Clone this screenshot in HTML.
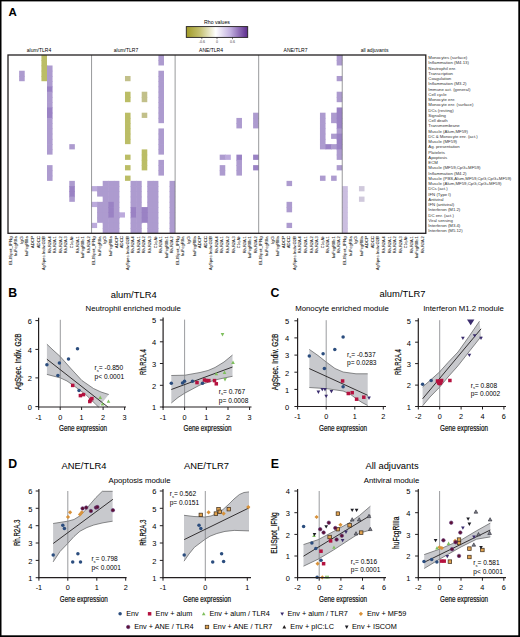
<!DOCTYPE html><html><head><meta charset="utf-8"><style>html,body{margin:0;padding:0;background:#fff;}svg{display:block;}text{font-family:"Liberation Sans",sans-serif;}</style></head><body>
<svg width="520" height="637" viewBox="0 0 520 637">
<defs><linearGradient id="rho" x1="0" x2="1" y1="0" y2="0"><stop offset="0" stop-color="#a09a26"/><stop offset="0.22" stop-color="#c4c070"/><stop offset="0.48" stop-color="#ffffff"/><stop offset="0.72" stop-color="#c2b0e0"/><stop offset="1" stop-color="#5b2a8c"/></linearGradient><clipPath id="cpB1"><rect x="38" y="300" width="95" height="107"/></clipPath></defs>
<rect x="0.00" y="0.00" width="520.00" height="637.00" fill="#ffffff"/>
<text x="8.60" y="15.60" font-size="11.5" font-weight="bold" fill="#000">A</text>
<text x="217.00" y="23.60" font-size="5.2" text-anchor="middle">Rho values</text>
<rect x="186.3" y="26.6" width="61.4" height="10.8" fill="url(#rho)" stroke="#231f20" stroke-width="0.9"/>
<line x1="201.80" y1="37.40" x2="201.80" y2="39.20" stroke="#231f20" stroke-width="0.6"/>
<text x="201.80" y="43.40" font-size="3.6" text-anchor="middle" fill="#444">-0.6</text>
<line x1="217.00" y1="37.40" x2="217.00" y2="39.20" stroke="#231f20" stroke-width="0.6"/>
<text x="217.00" y="43.40" font-size="3.6" text-anchor="middle" fill="#444">0</text>
<line x1="232.50" y1="37.40" x2="232.50" y2="39.20" stroke="#231f20" stroke-width="0.6"/>
<text x="232.50" y="43.40" font-size="3.6" text-anchor="middle" fill="#444">0.6</text>
<rect x="19.14" y="70.73" width="5.57" height="5.94" fill="#ad9bcf"/>
<rect x="19.14" y="75.98" width="5.57" height="5.24" fill="#ad9bcf"/>
<rect x="41.42" y="55.00" width="5.57" height="5.94" fill="#bbbd66"/>
<rect x="41.42" y="60.24" width="5.57" height="5.94" fill="#bbbd66"/>
<rect x="41.42" y="65.49" width="6.17" height="5.94" fill="#bbbd66"/>
<rect x="41.42" y="70.73" width="6.17" height="5.94" fill="#bbbd66"/>
<rect x="41.42" y="75.98" width="6.17" height="5.24" fill="#bbbd66"/>
<rect x="46.99" y="65.49" width="5.57" height="5.94" fill="#ad9bcf"/>
<rect x="46.99" y="70.73" width="5.57" height="5.94" fill="#ad9bcf"/>
<rect x="46.99" y="75.98" width="5.57" height="5.94" fill="#ad9bcf"/>
<rect x="46.99" y="81.22" width="5.57" height="5.94" fill="#ad9bcf"/>
<rect x="46.99" y="86.46" width="5.57" height="5.94" fill="#9a82c4"/>
<rect x="46.99" y="91.71" width="5.57" height="5.94" fill="#ad9bcf"/>
<rect x="46.99" y="96.95" width="5.57" height="5.94" fill="#ad9bcf"/>
<rect x="46.99" y="102.20" width="5.57" height="5.94" fill="#ad9bcf"/>
<rect x="46.99" y="107.44" width="5.57" height="5.94" fill="#9a82c4"/>
<rect x="46.99" y="112.69" width="5.57" height="5.94" fill="#9a82c4"/>
<rect x="46.99" y="117.93" width="5.57" height="5.94" fill="#ad9bcf"/>
<rect x="46.99" y="123.17" width="5.57" height="5.94" fill="#ad9bcf"/>
<rect x="46.99" y="128.42" width="5.57" height="5.94" fill="#ad9bcf"/>
<rect x="46.99" y="133.66" width="5.57" height="5.94" fill="#ad9bcf"/>
<rect x="46.99" y="138.91" width="5.57" height="5.94" fill="#ad9bcf"/>
<rect x="46.99" y="144.15" width="5.57" height="5.94" fill="#ad9bcf"/>
<rect x="46.99" y="149.39" width="5.57" height="5.24" fill="#ad9bcf"/>
<rect x="46.99" y="165.13" width="5.57" height="5.94" fill="#ad9bcf"/>
<rect x="46.99" y="170.37" width="5.57" height="5.94" fill="#ad9bcf"/>
<rect x="46.99" y="175.61" width="5.57" height="5.24" fill="#ad9bcf"/>
<rect x="69.28" y="144.15" width="5.57" height="5.24" fill="#ad9bcf"/>
<rect x="69.28" y="180.86" width="5.57" height="5.94" fill="#ad9bcf"/>
<rect x="69.28" y="186.10" width="5.57" height="5.94" fill="#9a82c4"/>
<rect x="69.28" y="191.35" width="5.57" height="5.94" fill="#9a82c4"/>
<rect x="69.28" y="196.59" width="5.57" height="5.24" fill="#ad9bcf"/>
<rect x="91.56" y="186.10" width="6.17" height="5.24" fill="#bcaadc"/>
<rect x="91.56" y="201.84" width="6.17" height="5.24" fill="#bcaadc"/>
<rect x="91.56" y="222.81" width="5.57" height="5.24" fill="#bcaadc"/>
<rect x="97.13" y="186.10" width="6.17" height="5.94" fill="#ad9bcf"/>
<rect x="97.13" y="191.35" width="6.17" height="5.24" fill="#ad9bcf"/>
<rect x="97.13" y="201.84" width="6.17" height="5.94" fill="#ad9bcf"/>
<rect x="97.13" y="207.08" width="6.17" height="5.94" fill="#ad9bcf"/>
<rect x="97.13" y="212.32" width="6.17" height="5.94" fill="#ad9bcf"/>
<rect x="97.13" y="217.57" width="6.17" height="5.24" fill="#ad9bcf"/>
<rect x="102.70" y="180.86" width="6.17" height="5.94" fill="#ad9bcf"/>
<rect x="102.70" y="186.10" width="6.17" height="5.94" fill="#ad9bcf"/>
<rect x="102.70" y="191.35" width="6.17" height="5.94" fill="#ad9bcf"/>
<rect x="102.70" y="196.59" width="6.17" height="5.94" fill="#ad9bcf"/>
<rect x="102.70" y="201.84" width="6.17" height="5.94" fill="#ad9bcf"/>
<rect x="102.70" y="207.08" width="6.17" height="5.94" fill="#ad9bcf"/>
<rect x="102.70" y="212.32" width="6.17" height="5.94" fill="#ad9bcf"/>
<rect x="102.70" y="217.57" width="6.17" height="5.94" fill="#ad9bcf"/>
<rect x="102.70" y="222.81" width="6.17" height="5.94" fill="#ad9bcf"/>
<rect x="102.70" y="228.06" width="6.17" height="5.24" fill="#ad9bcf"/>
<rect x="108.27" y="180.86" width="6.17" height="5.94" fill="#ad9bcf"/>
<rect x="108.27" y="186.10" width="6.17" height="5.94" fill="#ad9bcf"/>
<rect x="108.27" y="191.35" width="6.17" height="5.94" fill="#ad9bcf"/>
<rect x="108.27" y="196.59" width="6.17" height="5.94" fill="#ad9bcf"/>
<rect x="108.27" y="201.84" width="6.17" height="5.94" fill="#9a82c4"/>
<rect x="108.27" y="207.08" width="6.17" height="5.94" fill="#9a82c4"/>
<rect x="108.27" y="212.32" width="6.17" height="5.94" fill="#9a82c4"/>
<rect x="108.27" y="217.57" width="6.17" height="5.94" fill="#ad9bcf"/>
<rect x="108.27" y="222.81" width="6.17" height="5.94" fill="#ad9bcf"/>
<rect x="108.27" y="228.06" width="6.17" height="5.24" fill="#ad9bcf"/>
<rect x="113.84" y="180.86" width="5.57" height="5.94" fill="#ad9bcf"/>
<rect x="113.84" y="186.10" width="5.57" height="5.94" fill="#ad9bcf"/>
<rect x="113.84" y="191.35" width="5.57" height="5.94" fill="#ad9bcf"/>
<rect x="113.84" y="196.59" width="5.57" height="5.94" fill="#ad9bcf"/>
<rect x="113.84" y="201.84" width="5.57" height="5.94" fill="#ad9bcf"/>
<rect x="113.84" y="207.08" width="5.57" height="5.94" fill="#ad9bcf"/>
<rect x="113.84" y="212.32" width="6.17" height="5.94" fill="#ad9bcf"/>
<rect x="113.84" y="217.57" width="5.57" height="5.94" fill="#ad9bcf"/>
<rect x="113.84" y="222.81" width="5.57" height="5.94" fill="#ad9bcf"/>
<rect x="113.84" y="228.06" width="5.57" height="5.24" fill="#ad9bcf"/>
<rect x="119.41" y="212.32" width="5.57" height="5.24" fill="#bcaadc"/>
<rect x="124.98" y="75.98" width="5.57" height="5.24" fill="#c2c08a"/>
<rect x="124.98" y="91.71" width="5.57" height="5.94" fill="#bbbd66"/>
<rect x="124.98" y="96.95" width="5.57" height="5.24" fill="#bbbd66"/>
<rect x="124.98" y="112.69" width="5.57" height="5.94" fill="#bbbd66"/>
<rect x="124.98" y="117.93" width="5.57" height="5.94" fill="#bbbd66"/>
<rect x="124.98" y="123.17" width="5.57" height="5.94" fill="#bbbd66"/>
<rect x="124.98" y="128.42" width="5.57" height="5.94" fill="#bbbd66"/>
<rect x="124.98" y="133.66" width="5.57" height="5.94" fill="#bbbd66"/>
<rect x="124.98" y="138.91" width="5.57" height="5.24" fill="#bbbd66"/>
<rect x="124.98" y="154.64" width="5.57" height="5.24" fill="#bbbd66"/>
<rect x="124.98" y="165.13" width="5.57" height="5.24" fill="#bbbd66"/>
<rect x="124.98" y="175.61" width="5.57" height="5.24" fill="#bbbd66"/>
<rect x="141.70" y="91.71" width="5.57" height="5.94" fill="#c2c08a"/>
<rect x="141.70" y="96.95" width="5.57" height="5.24" fill="#c2c08a"/>
<rect x="141.70" y="112.69" width="5.57" height="5.24" fill="#c2c08a"/>
<rect x="141.70" y="149.39" width="5.57" height="5.94" fill="#bbbd66"/>
<rect x="141.70" y="154.64" width="5.57" height="5.94" fill="#bbbd66"/>
<rect x="141.70" y="159.88" width="5.57" height="5.94" fill="#bbbd66"/>
<rect x="141.70" y="165.13" width="5.57" height="5.24" fill="#bbbd66"/>
<rect x="158.41" y="55.00" width="5.57" height="5.94" fill="#ad9bcf"/>
<rect x="158.41" y="60.24" width="5.57" height="5.24" fill="#ad9bcf"/>
<rect x="158.41" y="70.73" width="5.57" height="5.94" fill="#ad9bcf"/>
<rect x="158.41" y="75.98" width="5.57" height="5.94" fill="#ad9bcf"/>
<rect x="158.41" y="81.22" width="5.57" height="5.94" fill="#ad9bcf"/>
<rect x="158.41" y="86.46" width="5.57" height="5.94" fill="#ad9bcf"/>
<rect x="158.41" y="91.71" width="5.57" height="5.94" fill="#ad9bcf"/>
<rect x="158.41" y="96.95" width="5.57" height="5.94" fill="#ad9bcf"/>
<rect x="158.41" y="102.20" width="5.57" height="5.94" fill="#ad9bcf"/>
<rect x="158.41" y="107.44" width="5.57" height="5.94" fill="#ad9bcf"/>
<rect x="158.41" y="112.69" width="5.57" height="5.94" fill="#ad9bcf"/>
<rect x="158.41" y="117.93" width="5.57" height="5.24" fill="#ad9bcf"/>
<rect x="158.41" y="128.42" width="5.57" height="5.94" fill="#ad9bcf"/>
<rect x="158.41" y="133.66" width="5.57" height="5.94" fill="#ad9bcf"/>
<rect x="158.41" y="138.91" width="5.57" height="5.94" fill="#ad9bcf"/>
<rect x="158.41" y="144.15" width="5.57" height="5.94" fill="#ad9bcf"/>
<rect x="158.41" y="149.39" width="5.57" height="5.24" fill="#ad9bcf"/>
<rect x="158.41" y="159.88" width="5.57" height="5.94" fill="#ad9bcf"/>
<rect x="158.41" y="165.13" width="5.57" height="5.94" fill="#ad9bcf"/>
<rect x="158.41" y="170.37" width="5.57" height="5.24" fill="#ad9bcf"/>
<rect x="130.55" y="180.86" width="6.17" height="5.94" fill="#ad9bcf"/>
<rect x="130.55" y="186.10" width="6.17" height="5.94" fill="#ad9bcf"/>
<rect x="130.55" y="191.35" width="6.17" height="5.94" fill="#ad9bcf"/>
<rect x="130.55" y="196.59" width="6.17" height="5.94" fill="#ad9bcf"/>
<rect x="130.55" y="201.84" width="6.17" height="5.94" fill="#ad9bcf"/>
<rect x="130.55" y="207.08" width="6.17" height="5.94" fill="#9a82c4"/>
<rect x="130.55" y="212.32" width="6.17" height="5.94" fill="#9a82c4"/>
<rect x="130.55" y="217.57" width="6.17" height="5.94" fill="#ad9bcf"/>
<rect x="130.55" y="222.81" width="6.17" height="5.94" fill="#ad9bcf"/>
<rect x="130.55" y="228.06" width="6.17" height="5.24" fill="#ad9bcf"/>
<rect x="136.13" y="180.86" width="5.57" height="5.94" fill="#ad9bcf"/>
<rect x="136.13" y="186.10" width="5.57" height="5.94" fill="#ad9bcf"/>
<rect x="136.13" y="191.35" width="5.57" height="5.94" fill="#ad9bcf"/>
<rect x="136.13" y="196.59" width="5.57" height="5.94" fill="#ad9bcf"/>
<rect x="136.13" y="201.84" width="5.57" height="5.94" fill="#ad9bcf"/>
<rect x="136.13" y="207.08" width="6.17" height="5.94" fill="#ad9bcf"/>
<rect x="136.13" y="212.32" width="6.17" height="5.94" fill="#ad9bcf"/>
<rect x="136.13" y="217.57" width="6.17" height="5.94" fill="#ad9bcf"/>
<rect x="136.13" y="222.81" width="5.57" height="5.94" fill="#ad9bcf"/>
<rect x="136.13" y="228.06" width="5.57" height="5.24" fill="#ad9bcf"/>
<rect x="147.27" y="180.86" width="6.17" height="5.94" fill="#ad9bcf"/>
<rect x="147.27" y="186.10" width="6.17" height="5.94" fill="#ad9bcf"/>
<rect x="147.27" y="191.35" width="6.17" height="5.94" fill="#ad9bcf"/>
<rect x="147.27" y="196.59" width="6.17" height="5.94" fill="#ad9bcf"/>
<rect x="147.27" y="201.84" width="6.17" height="5.94" fill="#ad9bcf"/>
<rect x="147.27" y="207.08" width="6.17" height="5.94" fill="#ad9bcf"/>
<rect x="147.27" y="212.32" width="6.17" height="5.94" fill="#ad9bcf"/>
<rect x="147.27" y="217.57" width="6.17" height="5.94" fill="#ad9bcf"/>
<rect x="147.27" y="222.81" width="6.17" height="5.94" fill="#ad9bcf"/>
<rect x="147.27" y="228.06" width="6.17" height="5.24" fill="#ad9bcf"/>
<rect x="152.84" y="180.86" width="5.57" height="5.94" fill="#ad9bcf"/>
<rect x="152.84" y="186.10" width="5.57" height="5.94" fill="#ad9bcf"/>
<rect x="152.84" y="191.35" width="5.57" height="5.94" fill="#ad9bcf"/>
<rect x="152.84" y="196.59" width="5.57" height="5.94" fill="#ad9bcf"/>
<rect x="152.84" y="201.84" width="5.57" height="5.94" fill="#ad9bcf"/>
<rect x="152.84" y="207.08" width="5.57" height="5.94" fill="#ad9bcf"/>
<rect x="152.84" y="212.32" width="5.57" height="5.94" fill="#ad9bcf"/>
<rect x="152.84" y="217.57" width="5.57" height="5.94" fill="#ad9bcf"/>
<rect x="152.84" y="222.81" width="5.57" height="5.94" fill="#ad9bcf"/>
<rect x="152.84" y="228.06" width="5.57" height="5.24" fill="#ad9bcf"/>
<rect x="169.55" y="180.86" width="5.57" height="5.94" fill="#ad9bcf"/>
<rect x="169.55" y="186.10" width="5.57" height="5.94" fill="#ad9bcf"/>
<rect x="169.55" y="191.35" width="5.57" height="5.94" fill="#ad9bcf"/>
<rect x="169.55" y="196.59" width="5.57" height="5.94" fill="#ad9bcf"/>
<rect x="169.55" y="201.84" width="5.57" height="5.94" fill="#ad9bcf"/>
<rect x="169.55" y="207.08" width="5.57" height="5.94" fill="#ad9bcf"/>
<rect x="169.55" y="212.32" width="5.57" height="5.94" fill="#ad9bcf"/>
<rect x="169.55" y="217.57" width="5.57" height="5.94" fill="#ad9bcf"/>
<rect x="169.55" y="222.81" width="5.57" height="5.94" fill="#ad9bcf"/>
<rect x="169.55" y="228.06" width="5.57" height="5.24" fill="#ad9bcf"/>
<rect x="141.70" y="207.08" width="6.17" height="5.94" fill="#9a82c4"/>
<rect x="141.70" y="212.32" width="6.17" height="5.94" fill="#9a82c4"/>
<rect x="141.70" y="217.57" width="6.17" height="5.24" fill="#9a82c4"/>
<rect x="219.69" y="154.64" width="6.17" height="5.24" fill="#ad9bcf"/>
<rect x="225.26" y="154.64" width="5.57" height="5.24" fill="#bcaadc"/>
<rect x="219.69" y="165.13" width="5.57" height="5.94" fill="#ad9bcf"/>
<rect x="219.69" y="170.37" width="5.57" height="5.24" fill="#ad9bcf"/>
<rect x="236.40" y="117.93" width="5.57" height="5.94" fill="#ad9bcf"/>
<rect x="236.40" y="123.17" width="5.57" height="5.24" fill="#ad9bcf"/>
<rect x="236.40" y="154.64" width="5.57" height="5.94" fill="#9a82c4"/>
<rect x="236.40" y="159.88" width="5.57" height="5.94" fill="#ad9bcf"/>
<rect x="236.40" y="165.13" width="5.57" height="5.94" fill="#ad9bcf"/>
<rect x="236.40" y="170.37" width="5.57" height="5.24" fill="#ad9bcf"/>
<rect x="253.11" y="112.69" width="5.57" height="5.94" fill="#ad9bcf"/>
<rect x="253.11" y="117.93" width="5.57" height="5.94" fill="#ad9bcf"/>
<rect x="253.11" y="123.17" width="5.57" height="5.24" fill="#ad9bcf"/>
<rect x="253.11" y="154.64" width="5.57" height="5.24" fill="#9a82c4"/>
<rect x="253.11" y="165.13" width="5.57" height="5.24" fill="#9a82c4"/>
<rect x="286.53" y="180.86" width="5.57" height="5.24" fill="#ad9bcf"/>
<rect x="286.53" y="201.84" width="5.57" height="5.94" fill="#ad9bcf"/>
<rect x="286.53" y="207.08" width="5.57" height="5.24" fill="#ad9bcf"/>
<rect x="286.53" y="222.81" width="5.57" height="5.24" fill="#ad9bcf"/>
<rect x="319.96" y="112.69" width="5.57" height="5.94" fill="#ad9bcf"/>
<rect x="319.96" y="117.93" width="5.57" height="5.94" fill="#ad9bcf"/>
<rect x="319.96" y="123.17" width="5.57" height="5.94" fill="#ad9bcf"/>
<rect x="319.96" y="128.42" width="5.57" height="5.94" fill="#ad9bcf"/>
<rect x="319.96" y="133.66" width="5.57" height="5.94" fill="#ad9bcf"/>
<rect x="319.96" y="138.91" width="5.57" height="5.94" fill="#ad9bcf"/>
<rect x="319.96" y="144.15" width="6.17" height="5.24" fill="#ad9bcf"/>
<rect x="319.96" y="175.61" width="5.57" height="5.24" fill="#ad9bcf"/>
<rect x="325.53" y="144.15" width="6.17" height="5.24" fill="#9a82c4"/>
<rect x="331.10" y="112.69" width="6.17" height="5.94" fill="#ad9bcf"/>
<rect x="331.10" y="117.93" width="6.17" height="5.24" fill="#ad9bcf"/>
<rect x="331.10" y="133.66" width="6.17" height="5.24" fill="#ad9bcf"/>
<rect x="331.10" y="144.15" width="6.17" height="5.24" fill="#ad9bcf"/>
<rect x="331.10" y="175.61" width="5.57" height="5.24" fill="#ad9bcf"/>
<rect x="336.67" y="55.00" width="5.57" height="5.94" fill="#ad9bcf"/>
<rect x="336.67" y="60.24" width="5.57" height="5.24" fill="#ad9bcf"/>
<rect x="336.67" y="75.98" width="5.57" height="5.24" fill="#ad9bcf"/>
<rect x="336.67" y="91.71" width="5.57" height="5.94" fill="#ad9bcf"/>
<rect x="336.67" y="96.95" width="5.57" height="5.24" fill="#ad9bcf"/>
<rect x="336.67" y="107.44" width="5.57" height="5.94" fill="#9a82c4"/>
<rect x="336.67" y="112.69" width="5.57" height="5.94" fill="#9a82c4"/>
<rect x="336.67" y="117.93" width="5.57" height="5.94" fill="#9a82c4"/>
<rect x="336.67" y="123.17" width="5.57" height="5.94" fill="#9a82c4"/>
<rect x="336.67" y="128.42" width="5.57" height="5.94" fill="#ad9bcf"/>
<rect x="336.67" y="133.66" width="5.57" height="5.94" fill="#9a82c4"/>
<rect x="336.67" y="138.91" width="5.57" height="5.94" fill="#9a82c4"/>
<rect x="336.67" y="144.15" width="5.57" height="5.94" fill="#9a82c4"/>
<rect x="336.67" y="149.39" width="5.57" height="5.94" fill="#ad9bcf"/>
<rect x="336.67" y="154.64" width="5.57" height="5.24" fill="#ad9bcf"/>
<rect x="336.67" y="165.13" width="5.57" height="5.24" fill="#ad9bcf"/>
<rect x="342.24" y="186.10" width="5.57" height="5.94" fill="#cbbee0"/>
<rect x="342.24" y="191.35" width="5.57" height="5.94" fill="#cbbee0"/>
<rect x="342.24" y="196.59" width="5.57" height="5.94" fill="#cbbee0"/>
<rect x="342.24" y="201.84" width="5.57" height="5.94" fill="#cbbee0"/>
<rect x="342.24" y="207.08" width="5.57" height="5.94" fill="#cbbee0"/>
<rect x="342.24" y="212.32" width="5.57" height="5.94" fill="#cbbee0"/>
<rect x="342.24" y="217.57" width="5.57" height="5.94" fill="#cbbee0"/>
<rect x="342.24" y="222.81" width="5.57" height="5.94" fill="#cbbee0"/>
<rect x="342.24" y="228.06" width="5.57" height="5.24" fill="#cbbee0"/>
<rect x="358.95" y="186.10" width="5.57" height="5.24" fill="#d0c9dc"/>
<rect x="358.95" y="196.59" width="5.57" height="5.24" fill="#d0c9dc"/>
<line x1="91.56" y1="55.00" x2="91.56" y2="233.30" stroke="#6d6e71" stroke-width="0.7"/>
<line x1="175.12" y1="55.00" x2="175.12" y2="233.30" stroke="#6d6e71" stroke-width="0.7"/>
<line x1="258.68" y1="55.00" x2="258.68" y2="233.30" stroke="#6d6e71" stroke-width="0.7"/>
<line x1="342.24" y1="55.00" x2="342.24" y2="233.30" stroke="#6d6e71" stroke-width="0.7"/>
<rect x="8.0" y="55.0" width="417.8" height="178.3" fill="none" stroke="#231f20" stroke-width="1.3"/>
<text x="39.00" y="52.30" font-size="5.0" text-anchor="middle">alum/TLR4</text>
<text x="126.00" y="52.30" font-size="5.0" text-anchor="middle">alum/TLR7</text>
<text x="211.00" y="52.30" font-size="5.0" text-anchor="middle">ANE/TLR4</text>
<text x="295.50" y="52.30" font-size="5.0" text-anchor="middle">ANE/TLR7</text>
<text x="374.60" y="52.30" font-size="5.0" text-anchor="middle">all adjuvants</text>
<text x="428.30" y="59.17" font-size="4.3" fill="#333333">Monocytes (surface)</text>
<text x="428.30" y="64.42" font-size="4.3" fill="#333333">Inflammation (M4.13)</text>
<text x="428.30" y="69.66" font-size="4.3" fill="#333333">Neutrophil enr.</text>
<text x="428.30" y="74.90" font-size="4.3" fill="#333333">Transcription</text>
<text x="428.30" y="80.15" font-size="4.3" fill="#333333">Coagulation</text>
<text x="428.30" y="85.39" font-size="4.3" fill="#333333">Inflammation (M3.2)</text>
<text x="428.30" y="90.64" font-size="4.3" fill="#333333">Immune act. (general)</text>
<text x="428.30" y="95.88" font-size="4.3" fill="#333333">Cell cycle</text>
<text x="428.30" y="101.12" font-size="4.3" fill="#333333">Monocyte enr.</text>
<text x="428.30" y="106.37" font-size="4.3" fill="#333333">Monocyte enr. (surface)</text>
<text x="428.30" y="111.61" font-size="4.3" fill="#333333">DCs (resting)</text>
<text x="428.30" y="116.86" font-size="4.3" fill="#333333">Signaling</text>
<text x="428.30" y="122.10" font-size="4.3" fill="#333333">Cell death</text>
<text x="428.30" y="127.35" font-size="4.3" fill="#333333">Transmembrane</text>
<text x="428.30" y="132.59" font-size="4.3" fill="#333333">Muscle (Alum,MF59)</text>
<text x="428.30" y="137.83" font-size="4.3" fill="#333333">DC &amp; Monocyte enr. (act.)</text>
<text x="428.30" y="143.08" font-size="4.3" fill="#333333">Muscle (MF59)</text>
<text x="428.30" y="148.32" font-size="4.3" fill="#333333">Ag. presentation</text>
<text x="428.30" y="153.57" font-size="4.3" fill="#333333">Platelets</text>
<text x="428.30" y="158.81" font-size="4.3" fill="#333333">Apoptosis</text>
<text x="428.30" y="164.05" font-size="4.3" fill="#333333">ECM</text>
<text x="428.30" y="169.30" font-size="4.3" fill="#333333">Muscle (MF59,CpG+MF59)</text>
<text x="428.30" y="174.54" font-size="4.3" fill="#333333">Inflammation (M4.2)</text>
<text x="428.30" y="179.79" font-size="4.3" fill="#333333">Muscle (PBS,Alum,MF59,CpG,CpG+MF59)</text>
<text x="428.30" y="185.03" font-size="4.3" fill="#333333">Muscle (Alum,MF59,CpG,CpG+MF59)</text>
<text x="428.30" y="190.28" font-size="4.3" fill="#333333">DCs (act.)</text>
<text x="428.30" y="195.52" font-size="4.3" fill="#333333">IFN (Type I)</text>
<text x="428.30" y="200.76" font-size="4.3" fill="#333333">Antiviral</text>
<text x="428.30" y="206.01" font-size="4.3" fill="#333333">IFN (antiviral)</text>
<text x="428.30" y="211.25" font-size="4.3" fill="#333333">Interferon (M1.2)</text>
<text x="428.30" y="216.50" font-size="4.3" fill="#333333">DC enr. (act.)</text>
<text x="428.30" y="221.74" font-size="4.3" fill="#333333">Viral sensing</text>
<text x="428.30" y="226.98" font-size="4.3" fill="#333333">Interferon (M3.4)</text>
<text x="428.30" y="232.23" font-size="4.3" fill="#333333">Interferon (M5.12)</text>
<text x="11.74" y="236.20" font-size="4.4" text-anchor="end" fill="#1e1e1e" textLength="28.50" lengthAdjust="spacingAndGlyphs" transform="rotate(-90 11.74 236.20)" stroke="#1e1e1e" stroke-width="0.07">ELISpot_IFNg</text>
<text x="17.31" y="236.20" font-size="4.4" text-anchor="end" fill="#1e1e1e" textLength="20.00" lengthAdjust="spacingAndGlyphs" transform="rotate(-90 17.31 236.20)" stroke="#1e1e1e" stroke-width="0.07">huFcgRIIa</text>
<text x="22.88" y="236.20" font-size="4.4" text-anchor="end" fill="#1e1e1e" textLength="8.00" lengthAdjust="spacingAndGlyphs" transform="rotate(-90 22.88 236.20)" stroke="#1e1e1e" stroke-width="0.07">IgG</text>
<text x="28.45" y="236.20" font-size="4.4" text-anchor="end" fill="#1e1e1e" textLength="20.00" lengthAdjust="spacingAndGlyphs" transform="rotate(-90 28.45 236.20)" stroke="#1e1e1e" stroke-width="0.07">huFcgRIIIa</text>
<text x="34.02" y="236.20" font-size="4.4" text-anchor="end" fill="#1e1e1e" textLength="12.00" lengthAdjust="spacingAndGlyphs" transform="rotate(-90 34.02 236.20)" stroke="#1e1e1e" stroke-width="0.07">ADCP</text>
<text x="39.59" y="236.20" font-size="4.4" text-anchor="end" fill="#1e1e1e" textLength="12.00" lengthAdjust="spacingAndGlyphs" transform="rotate(-90 39.59 236.20)" stroke="#1e1e1e" stroke-width="0.07">ADCC</text>
<text x="45.16" y="236.20" font-size="4.4" text-anchor="end" fill="#1e1e1e" textLength="34.00" lengthAdjust="spacingAndGlyphs" transform="rotate(-90 45.16 236.20)" stroke="#1e1e1e" stroke-width="0.07">AgSpec.Indiv.G2B</text>
<text x="50.73" y="236.20" font-size="4.4" text-anchor="end" fill="#1e1e1e" textLength="17.00" lengthAdjust="spacingAndGlyphs" transform="rotate(-90 50.73 236.20)" stroke="#1e1e1e" stroke-width="0.07">Rh.R2A.4</text>
<text x="56.30" y="236.20" font-size="4.4" text-anchor="end" fill="#1e1e1e" textLength="17.00" lengthAdjust="spacingAndGlyphs" transform="rotate(-90 56.30 236.20)" stroke="#1e1e1e" stroke-width="0.07">Rh.R2A.1</text>
<text x="61.87" y="236.20" font-size="4.4" text-anchor="end" fill="#1e1e1e" textLength="17.00" lengthAdjust="spacingAndGlyphs" transform="rotate(-90 61.87 236.20)" stroke="#1e1e1e" stroke-width="0.07">Rh.R2A.2</text>
<text x="67.44" y="236.20" font-size="4.4" text-anchor="end" fill="#1e1e1e" textLength="17.00" lengthAdjust="spacingAndGlyphs" transform="rotate(-90 67.44 236.20)" stroke="#1e1e1e" stroke-width="0.07">Rh.R2A.3</text>
<text x="73.01" y="236.20" font-size="4.4" text-anchor="end" fill="#1e1e1e" textLength="12.00" lengthAdjust="spacingAndGlyphs" transform="rotate(-90 73.01 236.20)" stroke="#1e1e1e" stroke-width="0.07">C1q.Ab</text>
<text x="78.58" y="236.20" font-size="4.4" text-anchor="end" fill="#1e1e1e" textLength="17.00" lengthAdjust="spacingAndGlyphs" transform="rotate(-90 78.58 236.20)" stroke="#1e1e1e" stroke-width="0.07">Rh.R3A.1</text>
<text x="84.15" y="236.20" font-size="4.4" text-anchor="end" fill="#1e1e1e" textLength="22.00" lengthAdjust="spacingAndGlyphs" transform="rotate(-90 84.15 236.20)" stroke="#1e1e1e" stroke-width="0.07">huFcgRIIb.1</text>
<text x="89.72" y="236.20" font-size="4.4" text-anchor="end" fill="#1e1e1e" textLength="17.00" lengthAdjust="spacingAndGlyphs" transform="rotate(-90 89.72 236.20)" stroke="#1e1e1e" stroke-width="0.07">Rh.R3A.2</text>
<text x="95.30" y="236.20" font-size="4.4" text-anchor="end" fill="#1e1e1e" textLength="28.50" lengthAdjust="spacingAndGlyphs" transform="rotate(-90 95.30 236.20)" stroke="#1e1e1e" stroke-width="0.07">ELISpot_IFNg</text>
<text x="100.87" y="236.20" font-size="4.4" text-anchor="end" fill="#1e1e1e" textLength="20.00" lengthAdjust="spacingAndGlyphs" transform="rotate(-90 100.87 236.20)" stroke="#1e1e1e" stroke-width="0.07">huFcgRIIa</text>
<text x="106.44" y="236.20" font-size="4.4" text-anchor="end" fill="#1e1e1e" textLength="8.00" lengthAdjust="spacingAndGlyphs" transform="rotate(-90 106.44 236.20)" stroke="#1e1e1e" stroke-width="0.07">IgG</text>
<text x="112.01" y="236.20" font-size="4.4" text-anchor="end" fill="#1e1e1e" textLength="20.00" lengthAdjust="spacingAndGlyphs" transform="rotate(-90 112.01 236.20)" stroke="#1e1e1e" stroke-width="0.07">huFcgRIIIa</text>
<text x="117.58" y="236.20" font-size="4.4" text-anchor="end" fill="#1e1e1e" textLength="12.00" lengthAdjust="spacingAndGlyphs" transform="rotate(-90 117.58 236.20)" stroke="#1e1e1e" stroke-width="0.07">ADCP</text>
<text x="123.15" y="236.20" font-size="4.4" text-anchor="end" fill="#1e1e1e" textLength="12.00" lengthAdjust="spacingAndGlyphs" transform="rotate(-90 123.15 236.20)" stroke="#1e1e1e" stroke-width="0.07">ADCC</text>
<text x="128.72" y="236.20" font-size="4.4" text-anchor="end" fill="#1e1e1e" textLength="34.00" lengthAdjust="spacingAndGlyphs" transform="rotate(-90 128.72 236.20)" stroke="#1e1e1e" stroke-width="0.07">AgSpec.Indiv.G2B</text>
<text x="134.29" y="236.20" font-size="4.4" text-anchor="end" fill="#1e1e1e" textLength="17.00" lengthAdjust="spacingAndGlyphs" transform="rotate(-90 134.29 236.20)" stroke="#1e1e1e" stroke-width="0.07">Rh.R2A.4</text>
<text x="139.86" y="236.20" font-size="4.4" text-anchor="end" fill="#1e1e1e" textLength="17.00" lengthAdjust="spacingAndGlyphs" transform="rotate(-90 139.86 236.20)" stroke="#1e1e1e" stroke-width="0.07">Rh.R2A.1</text>
<text x="145.43" y="236.20" font-size="4.4" text-anchor="end" fill="#1e1e1e" textLength="17.00" lengthAdjust="spacingAndGlyphs" transform="rotate(-90 145.43 236.20)" stroke="#1e1e1e" stroke-width="0.07">Rh.R2A.2</text>
<text x="151.00" y="236.20" font-size="4.4" text-anchor="end" fill="#1e1e1e" textLength="17.00" lengthAdjust="spacingAndGlyphs" transform="rotate(-90 151.00 236.20)" stroke="#1e1e1e" stroke-width="0.07">Rh.R2A.3</text>
<text x="156.57" y="236.20" font-size="4.4" text-anchor="end" fill="#1e1e1e" textLength="12.00" lengthAdjust="spacingAndGlyphs" transform="rotate(-90 156.57 236.20)" stroke="#1e1e1e" stroke-width="0.07">C1q.Ab</text>
<text x="162.14" y="236.20" font-size="4.4" text-anchor="end" fill="#1e1e1e" textLength="17.00" lengthAdjust="spacingAndGlyphs" transform="rotate(-90 162.14 236.20)" stroke="#1e1e1e" stroke-width="0.07">Rh.R3A.1</text>
<text x="167.71" y="236.20" font-size="4.4" text-anchor="end" fill="#1e1e1e" textLength="22.00" lengthAdjust="spacingAndGlyphs" transform="rotate(-90 167.71 236.20)" stroke="#1e1e1e" stroke-width="0.07">huFcgRIIb.1</text>
<text x="173.28" y="236.20" font-size="4.4" text-anchor="end" fill="#1e1e1e" textLength="17.00" lengthAdjust="spacingAndGlyphs" transform="rotate(-90 173.28 236.20)" stroke="#1e1e1e" stroke-width="0.07">Rh.R3A.2</text>
<text x="178.86" y="236.20" font-size="4.4" text-anchor="end" fill="#1e1e1e" textLength="28.50" lengthAdjust="spacingAndGlyphs" transform="rotate(-90 178.86 236.20)" stroke="#1e1e1e" stroke-width="0.07">ELISpot_IFNg</text>
<text x="184.43" y="236.20" font-size="4.4" text-anchor="end" fill="#1e1e1e" textLength="20.00" lengthAdjust="spacingAndGlyphs" transform="rotate(-90 184.43 236.20)" stroke="#1e1e1e" stroke-width="0.07">huFcgRIIa</text>
<text x="190.00" y="236.20" font-size="4.4" text-anchor="end" fill="#1e1e1e" textLength="8.00" lengthAdjust="spacingAndGlyphs" transform="rotate(-90 190.00 236.20)" stroke="#1e1e1e" stroke-width="0.07">IgG</text>
<text x="195.57" y="236.20" font-size="4.4" text-anchor="end" fill="#1e1e1e" textLength="20.00" lengthAdjust="spacingAndGlyphs" transform="rotate(-90 195.57 236.20)" stroke="#1e1e1e" stroke-width="0.07">huFcgRIIIa</text>
<text x="201.14" y="236.20" font-size="4.4" text-anchor="end" fill="#1e1e1e" textLength="12.00" lengthAdjust="spacingAndGlyphs" transform="rotate(-90 201.14 236.20)" stroke="#1e1e1e" stroke-width="0.07">ADCP</text>
<text x="206.71" y="236.20" font-size="4.4" text-anchor="end" fill="#1e1e1e" textLength="12.00" lengthAdjust="spacingAndGlyphs" transform="rotate(-90 206.71 236.20)" stroke="#1e1e1e" stroke-width="0.07">ADCC</text>
<text x="212.28" y="236.20" font-size="4.4" text-anchor="end" fill="#1e1e1e" textLength="34.00" lengthAdjust="spacingAndGlyphs" transform="rotate(-90 212.28 236.20)" stroke="#1e1e1e" stroke-width="0.07">AgSpec.Indiv.G2B</text>
<text x="217.85" y="236.20" font-size="4.4" text-anchor="end" fill="#1e1e1e" textLength="17.00" lengthAdjust="spacingAndGlyphs" transform="rotate(-90 217.85 236.20)" stroke="#1e1e1e" stroke-width="0.07">Rh.R2A.4</text>
<text x="223.42" y="236.20" font-size="4.4" text-anchor="end" fill="#1e1e1e" textLength="17.00" lengthAdjust="spacingAndGlyphs" transform="rotate(-90 223.42 236.20)" stroke="#1e1e1e" stroke-width="0.07">Rh.R2A.1</text>
<text x="228.99" y="236.20" font-size="4.4" text-anchor="end" fill="#1e1e1e" textLength="17.00" lengthAdjust="spacingAndGlyphs" transform="rotate(-90 228.99 236.20)" stroke="#1e1e1e" stroke-width="0.07">Rh.R2A.2</text>
<text x="234.56" y="236.20" font-size="4.4" text-anchor="end" fill="#1e1e1e" textLength="17.00" lengthAdjust="spacingAndGlyphs" transform="rotate(-90 234.56 236.20)" stroke="#1e1e1e" stroke-width="0.07">Rh.R2A.3</text>
<text x="240.13" y="236.20" font-size="4.4" text-anchor="end" fill="#1e1e1e" textLength="12.00" lengthAdjust="spacingAndGlyphs" transform="rotate(-90 240.13 236.20)" stroke="#1e1e1e" stroke-width="0.07">C1q.Ab</text>
<text x="245.70" y="236.20" font-size="4.4" text-anchor="end" fill="#1e1e1e" textLength="17.00" lengthAdjust="spacingAndGlyphs" transform="rotate(-90 245.70 236.20)" stroke="#1e1e1e" stroke-width="0.07">Rh.R3A.1</text>
<text x="251.27" y="236.20" font-size="4.4" text-anchor="end" fill="#1e1e1e" textLength="22.00" lengthAdjust="spacingAndGlyphs" transform="rotate(-90 251.27 236.20)" stroke="#1e1e1e" stroke-width="0.07">huFcgRIIb.1</text>
<text x="256.84" y="236.20" font-size="4.4" text-anchor="end" fill="#1e1e1e" textLength="17.00" lengthAdjust="spacingAndGlyphs" transform="rotate(-90 256.84 236.20)" stroke="#1e1e1e" stroke-width="0.07">Rh.R3A.2</text>
<text x="262.42" y="236.20" font-size="4.4" text-anchor="end" fill="#1e1e1e" textLength="28.50" lengthAdjust="spacingAndGlyphs" transform="rotate(-90 262.42 236.20)" stroke="#1e1e1e" stroke-width="0.07">ELISpot_IFNg</text>
<text x="267.99" y="236.20" font-size="4.4" text-anchor="end" fill="#1e1e1e" textLength="20.00" lengthAdjust="spacingAndGlyphs" transform="rotate(-90 267.99 236.20)" stroke="#1e1e1e" stroke-width="0.07">huFcgRIIa</text>
<text x="273.56" y="236.20" font-size="4.4" text-anchor="end" fill="#1e1e1e" textLength="8.00" lengthAdjust="spacingAndGlyphs" transform="rotate(-90 273.56 236.20)" stroke="#1e1e1e" stroke-width="0.07">IgG</text>
<text x="279.13" y="236.20" font-size="4.4" text-anchor="end" fill="#1e1e1e" textLength="20.00" lengthAdjust="spacingAndGlyphs" transform="rotate(-90 279.13 236.20)" stroke="#1e1e1e" stroke-width="0.07">huFcgRIIIa</text>
<text x="284.70" y="236.20" font-size="4.4" text-anchor="end" fill="#1e1e1e" textLength="12.00" lengthAdjust="spacingAndGlyphs" transform="rotate(-90 284.70 236.20)" stroke="#1e1e1e" stroke-width="0.07">ADCP</text>
<text x="290.27" y="236.20" font-size="4.4" text-anchor="end" fill="#1e1e1e" textLength="12.00" lengthAdjust="spacingAndGlyphs" transform="rotate(-90 290.27 236.20)" stroke="#1e1e1e" stroke-width="0.07">ADCC</text>
<text x="295.84" y="236.20" font-size="4.4" text-anchor="end" fill="#1e1e1e" textLength="34.00" lengthAdjust="spacingAndGlyphs" transform="rotate(-90 295.84 236.20)" stroke="#1e1e1e" stroke-width="0.07">AgSpec.Indiv.G2B</text>
<text x="301.41" y="236.20" font-size="4.4" text-anchor="end" fill="#1e1e1e" textLength="17.00" lengthAdjust="spacingAndGlyphs" transform="rotate(-90 301.41 236.20)" stroke="#1e1e1e" stroke-width="0.07">Rh.R2A.4</text>
<text x="306.98" y="236.20" font-size="4.4" text-anchor="end" fill="#1e1e1e" textLength="17.00" lengthAdjust="spacingAndGlyphs" transform="rotate(-90 306.98 236.20)" stroke="#1e1e1e" stroke-width="0.07">Rh.R2A.1</text>
<text x="312.55" y="236.20" font-size="4.4" text-anchor="end" fill="#1e1e1e" textLength="17.00" lengthAdjust="spacingAndGlyphs" transform="rotate(-90 312.55 236.20)" stroke="#1e1e1e" stroke-width="0.07">Rh.R2A.2</text>
<text x="318.12" y="236.20" font-size="4.4" text-anchor="end" fill="#1e1e1e" textLength="17.00" lengthAdjust="spacingAndGlyphs" transform="rotate(-90 318.12 236.20)" stroke="#1e1e1e" stroke-width="0.07">Rh.R2A.3</text>
<text x="323.69" y="236.20" font-size="4.4" text-anchor="end" fill="#1e1e1e" textLength="12.00" lengthAdjust="spacingAndGlyphs" transform="rotate(-90 323.69 236.20)" stroke="#1e1e1e" stroke-width="0.07">C1q.Ab</text>
<text x="329.26" y="236.20" font-size="4.4" text-anchor="end" fill="#1e1e1e" textLength="17.00" lengthAdjust="spacingAndGlyphs" transform="rotate(-90 329.26 236.20)" stroke="#1e1e1e" stroke-width="0.07">Rh.R3A.1</text>
<text x="334.83" y="236.20" font-size="4.4" text-anchor="end" fill="#1e1e1e" textLength="22.00" lengthAdjust="spacingAndGlyphs" transform="rotate(-90 334.83 236.20)" stroke="#1e1e1e" stroke-width="0.07">huFcgRIIb.1</text>
<text x="340.40" y="236.20" font-size="4.4" text-anchor="end" fill="#1e1e1e" textLength="17.00" lengthAdjust="spacingAndGlyphs" transform="rotate(-90 340.40 236.20)" stroke="#1e1e1e" stroke-width="0.07">Rh.R3A.2</text>
<text x="345.98" y="236.20" font-size="4.4" text-anchor="end" fill="#1e1e1e" textLength="28.50" lengthAdjust="spacingAndGlyphs" transform="rotate(-90 345.98 236.20)" stroke="#1e1e1e" stroke-width="0.07">ELISpot_IFNg</text>
<text x="351.55" y="236.20" font-size="4.4" text-anchor="end" fill="#1e1e1e" textLength="20.00" lengthAdjust="spacingAndGlyphs" transform="rotate(-90 351.55 236.20)" stroke="#1e1e1e" stroke-width="0.07">huFcgRIIa</text>
<text x="357.12" y="236.20" font-size="4.4" text-anchor="end" fill="#1e1e1e" textLength="8.00" lengthAdjust="spacingAndGlyphs" transform="rotate(-90 357.12 236.20)" stroke="#1e1e1e" stroke-width="0.07">IgG</text>
<text x="362.69" y="236.20" font-size="4.4" text-anchor="end" fill="#1e1e1e" textLength="20.00" lengthAdjust="spacingAndGlyphs" transform="rotate(-90 362.69 236.20)" stroke="#1e1e1e" stroke-width="0.07">huFcgRIIIa</text>
<text x="368.26" y="236.20" font-size="4.4" text-anchor="end" fill="#1e1e1e" textLength="12.00" lengthAdjust="spacingAndGlyphs" transform="rotate(-90 368.26 236.20)" stroke="#1e1e1e" stroke-width="0.07">ADCP</text>
<text x="373.83" y="236.20" font-size="4.4" text-anchor="end" fill="#1e1e1e" textLength="12.00" lengthAdjust="spacingAndGlyphs" transform="rotate(-90 373.83 236.20)" stroke="#1e1e1e" stroke-width="0.07">ADCC</text>
<text x="379.40" y="236.20" font-size="4.4" text-anchor="end" fill="#1e1e1e" textLength="34.00" lengthAdjust="spacingAndGlyphs" transform="rotate(-90 379.40 236.20)" stroke="#1e1e1e" stroke-width="0.07">AgSpec.Indiv.G2B</text>
<text x="384.97" y="236.20" font-size="4.4" text-anchor="end" fill="#1e1e1e" textLength="17.00" lengthAdjust="spacingAndGlyphs" transform="rotate(-90 384.97 236.20)" stroke="#1e1e1e" stroke-width="0.07">Rh.R2A.4</text>
<text x="390.54" y="236.20" font-size="4.4" text-anchor="end" fill="#1e1e1e" textLength="17.00" lengthAdjust="spacingAndGlyphs" transform="rotate(-90 390.54 236.20)" stroke="#1e1e1e" stroke-width="0.07">Rh.R2A.1</text>
<text x="396.11" y="236.20" font-size="4.4" text-anchor="end" fill="#1e1e1e" textLength="17.00" lengthAdjust="spacingAndGlyphs" transform="rotate(-90 396.11 236.20)" stroke="#1e1e1e" stroke-width="0.07">Rh.R2A.2</text>
<text x="401.68" y="236.20" font-size="4.4" text-anchor="end" fill="#1e1e1e" textLength="17.00" lengthAdjust="spacingAndGlyphs" transform="rotate(-90 401.68 236.20)" stroke="#1e1e1e" stroke-width="0.07">Rh.R2A.3</text>
<text x="407.25" y="236.20" font-size="4.4" text-anchor="end" fill="#1e1e1e" textLength="12.00" lengthAdjust="spacingAndGlyphs" transform="rotate(-90 407.25 236.20)" stroke="#1e1e1e" stroke-width="0.07">C1q.Ab</text>
<text x="412.82" y="236.20" font-size="4.4" text-anchor="end" fill="#1e1e1e" textLength="17.00" lengthAdjust="spacingAndGlyphs" transform="rotate(-90 412.82 236.20)" stroke="#1e1e1e" stroke-width="0.07">Rh.R3A.1</text>
<text x="418.39" y="236.20" font-size="4.4" text-anchor="end" fill="#1e1e1e" textLength="22.00" lengthAdjust="spacingAndGlyphs" transform="rotate(-90 418.39 236.20)" stroke="#1e1e1e" stroke-width="0.07">huFcgRIIb.1</text>
<text x="423.96" y="236.20" font-size="4.4" text-anchor="end" fill="#1e1e1e" textLength="17.00" lengthAdjust="spacingAndGlyphs" transform="rotate(-90 423.96 236.20)" stroke="#1e1e1e" stroke-width="0.07">Rh.R3A.2</text>
<text x="8.30" y="296.60" font-size="12.3" font-weight="bold" fill="#000">B</text>
<text x="133.70" y="297.70" font-size="9.4" text-anchor="middle">alum/TLR4</text>
<text x="133.20" y="311.30" font-size="7.8" text-anchor="middle">Neutrophil enriched module</text>
<polygon points="46.90,344.20 53.00,350.00 60.20,356.50 70.40,368.00 81.90,380.50 93.50,388.50 101.00,392.00 108.80,394.50 98.50,407.00 95.40,404.00 85.80,394.60 74.20,386.00 67.00,381.00 60.20,377.80 53.00,376.00 46.90,374.40" fill="#c8c9cd" stroke="none"/>
<polyline points="46.90,344.20 53.00,350.00 60.20,356.50 70.40,368.00 81.90,380.50 93.50,388.50 101.00,392.00 108.80,394.50" fill="none" stroke="#636466" stroke-width="0.75"/>
<polyline points="46.90,374.40 53.00,376.00 60.20,377.80 67.00,381.00 74.20,386.00 85.80,394.60 95.40,404.00 98.50,407.00" fill="none" stroke="#636466" stroke-width="0.75"/>
<line x1="60.30" y1="319.80" x2="60.30" y2="407.00" stroke="#808285" stroke-width="0.8"/>
<line x1="46.90" y1="359.20" x2="107.90" y2="407.00" stroke="#231f20" stroke-width="0.9"/>
<circle cx="46.90" cy="364.80" r="1.75" fill="#2b4d7e"/>
<circle cx="57.90" cy="375.40" r="1.75" fill="#2b4d7e"/>
<circle cx="59.40" cy="362.90" r="1.75" fill="#2b4d7e"/>
<circle cx="68.50" cy="359.00" r="1.75" fill="#2b4d7e"/>
<circle cx="77.50" cy="348.80" r="1.75" fill="#2b4d7e"/>
<circle cx="79.00" cy="390.40" r="1.75" fill="#2b4d7e"/>
<rect x="70.95" y="383.65" width="3.50" height="3.50" fill="#b5123f"/>
<rect x="78.65" y="393.85" width="3.50" height="3.50" fill="#b5123f"/>
<rect x="81.75" y="392.85" width="3.50" height="3.50" fill="#b5123f"/>
<rect x="88.85" y="398.25" width="3.50" height="3.50" fill="#b5123f"/>
<rect x="90.15" y="396.85" width="3.50" height="3.50" fill="#b5123f"/>
<rect x="88.05" y="399.75" width="3.50" height="3.50" fill="#b5123f"/>
<path d="M100.20,395.57L102.04,398.90L98.36,398.90Z" fill="#7fbf5e"/>
<path d="M108.50,399.38L110.34,402.70L106.66,402.70Z" fill="#7fbf5e"/>
<path d="M102.50,402.07L104.34,405.40L100.66,405.40Z" fill="#7fbf5e"/>
<line x1="38.60" y1="317.80" x2="38.60" y2="407.60" stroke="#231f20" stroke-width="1.2"/>
<line x1="38.00" y1="407.00" x2="126.00" y2="407.00" stroke="#231f20" stroke-width="1.2"/>
<line x1="35.40" y1="320.60" x2="38.60" y2="320.60" stroke="#231f20" stroke-width="1.0"/>
<text x="32.00" y="323.90" font-size="7.5" text-anchor="end">6</text>
<line x1="35.40" y1="349.40" x2="38.60" y2="349.40" stroke="#231f20" stroke-width="1.0"/>
<text x="32.00" y="352.70" font-size="7.5" text-anchor="end">4</text>
<line x1="35.40" y1="377.90" x2="38.60" y2="377.90" stroke="#231f20" stroke-width="1.0"/>
<text x="32.00" y="381.20" font-size="7.5" text-anchor="end">2</text>
<line x1="35.40" y1="406.60" x2="38.60" y2="406.60" stroke="#231f20" stroke-width="1.0"/>
<text x="32.00" y="409.90" font-size="7.5" text-anchor="end">0</text>
<line x1="38.70" y1="407.00" x2="38.70" y2="410.00" stroke="#231f20" stroke-width="1.0"/>
<text x="38.70" y="419.70" font-size="7.3" text-anchor="middle">-1</text>
<line x1="60.20" y1="407.00" x2="60.20" y2="410.00" stroke="#231f20" stroke-width="1.0"/>
<text x="60.20" y="419.70" font-size="7.3" text-anchor="middle">0</text>
<line x1="81.60" y1="407.00" x2="81.60" y2="410.00" stroke="#231f20" stroke-width="1.0"/>
<text x="81.60" y="419.70" font-size="7.3" text-anchor="middle">1</text>
<line x1="103.10" y1="407.00" x2="103.10" y2="410.00" stroke="#231f20" stroke-width="1.0"/>
<text x="103.10" y="419.70" font-size="7.3" text-anchor="middle">2</text>
<line x1="124.60" y1="407.00" x2="124.60" y2="410.00" stroke="#231f20" stroke-width="1.0"/>
<text x="124.60" y="419.70" font-size="7.3" text-anchor="middle">3</text>
<text x="83.00" y="431.00" font-size="9.5" text-anchor="middle" textLength="48.00" lengthAdjust="spacingAndGlyphs" stroke="#231f20" stroke-width="0.22">Gene expression</text>
<text x="20.80" y="361.70" font-size="9.5" text-anchor="middle" textLength="56.60" lengthAdjust="spacingAndGlyphs" transform="rotate(-90 20.80 361.70)" stroke="#231f20" stroke-width="0.22">AgSpec. Indiv. G2B</text>
<text x="94.60" y="370.20" font-size="6.6">r<tspan font-size="4" dy="1.4">s</tspan><tspan dy="-1.4">= -0.850</tspan></text>
<text x="94.60" y="378.80" font-size="6.6">p&lt; 0.0001</text>
<polygon points="171.30,375.50 185.00,375.20 200.00,372.50 208.00,370.50 215.00,367.50 224.00,362.00 232.50,355.00 232.50,376.30 224.00,378.00 215.00,380.00 200.00,385.00 185.00,393.00 178.00,397.50 171.30,403.00" fill="#c8c9cd" stroke="none"/>
<polyline points="171.30,375.50 185.00,375.20 200.00,372.50 208.00,370.50 215.00,367.50 224.00,362.00 232.50,355.00" fill="none" stroke="#636466" stroke-width="0.75"/>
<polyline points="171.30,403.00 178.00,397.50 185.00,393.00 200.00,385.00 215.00,380.00 224.00,378.00 232.50,376.30" fill="none" stroke="#636466" stroke-width="0.75"/>
<line x1="184.60" y1="319.60" x2="184.60" y2="407.00" stroke="#808285" stroke-width="0.8"/>
<line x1="171.30" y1="389.50" x2="232.50" y2="367.00" stroke="#231f20" stroke-width="0.9"/>
<circle cx="171.30" cy="383.30" r="1.75" fill="#2b4d7e"/>
<circle cx="182.50" cy="383.00" r="1.75" fill="#2b4d7e"/>
<circle cx="184.50" cy="381.30" r="1.75" fill="#2b4d7e"/>
<circle cx="192.50" cy="381.30" r="1.75" fill="#2b4d7e"/>
<circle cx="202.50" cy="383.30" r="1.75" fill="#2b4d7e"/>
<rect x="195.25" y="380.85" width="3.50" height="3.50" fill="#b5123f"/>
<rect x="202.75" y="378.25" width="3.50" height="3.50" fill="#b5123f"/>
<rect x="204.55" y="378.85" width="3.50" height="3.50" fill="#b5123f"/>
<rect x="207.05" y="378.85" width="3.50" height="3.50" fill="#b5123f"/>
<rect x="212.75" y="378.85" width="3.50" height="3.50" fill="#b5123f"/>
<rect x="214.55" y="382.05" width="3.50" height="3.50" fill="#b5123f"/>
<path d="M216.30,371.88L218.14,375.20L214.46,375.20Z" fill="#7fbf5e"/>
<path d="M224.50,370.57L226.34,373.90L222.66,373.90Z" fill="#7fbf5e"/>
<path d="M225.00,381.43L226.84,378.10L223.16,378.10Z" fill="#7fbf5e"/>
<path d="M233.00,360.57L234.84,363.90L231.16,363.90Z" fill="#7fbf5e"/>
<path d="M222.50,336.43L224.34,333.10L220.66,333.10Z" fill="#7fbf5e"/>
<line x1="163.10" y1="317.60" x2="163.10" y2="407.60" stroke="#231f20" stroke-width="1.2"/>
<line x1="162.50" y1="407.00" x2="251.50" y2="407.00" stroke="#231f20" stroke-width="1.2"/>
<line x1="159.90" y1="320.00" x2="163.10" y2="320.00" stroke="#231f20" stroke-width="1.0"/>
<text x="156.10" y="323.30" font-size="7.5" text-anchor="end">5</text>
<line x1="159.90" y1="341.80" x2="163.10" y2="341.80" stroke="#231f20" stroke-width="1.0"/>
<text x="156.10" y="345.10" font-size="7.5" text-anchor="end">4</text>
<line x1="159.90" y1="363.50" x2="163.10" y2="363.50" stroke="#231f20" stroke-width="1.0"/>
<text x="156.10" y="366.80" font-size="7.5" text-anchor="end">3</text>
<line x1="159.90" y1="385.30" x2="163.10" y2="385.30" stroke="#231f20" stroke-width="1.0"/>
<text x="156.10" y="388.60" font-size="7.5" text-anchor="end">2</text>
<line x1="159.90" y1="407.00" x2="163.10" y2="407.00" stroke="#231f20" stroke-width="1.0"/>
<text x="156.10" y="410.30" font-size="7.5" text-anchor="end">1</text>
<line x1="163.10" y1="407.00" x2="163.10" y2="410.00" stroke="#231f20" stroke-width="1.0"/>
<text x="163.10" y="419.70" font-size="7.3" text-anchor="middle">-1</text>
<line x1="184.60" y1="407.00" x2="184.60" y2="410.00" stroke="#231f20" stroke-width="1.0"/>
<text x="184.60" y="419.70" font-size="7.3" text-anchor="middle">0</text>
<line x1="206.30" y1="407.00" x2="206.30" y2="410.00" stroke="#231f20" stroke-width="1.0"/>
<text x="206.30" y="419.70" font-size="7.3" text-anchor="middle">1</text>
<line x1="228.00" y1="407.00" x2="228.00" y2="410.00" stroke="#231f20" stroke-width="1.0"/>
<text x="228.00" y="419.70" font-size="7.3" text-anchor="middle">2</text>
<line x1="249.60" y1="407.00" x2="249.60" y2="410.00" stroke="#231f20" stroke-width="1.0"/>
<text x="249.60" y="419.70" font-size="7.3" text-anchor="middle">3</text>
<text x="207.50" y="431.00" font-size="9.5" text-anchor="middle" textLength="48.00" lengthAdjust="spacingAndGlyphs" stroke="#231f20" stroke-width="0.22">Gene expression</text>
<text x="146.20" y="362.00" font-size="9.5" text-anchor="middle" textLength="25.80" lengthAdjust="spacingAndGlyphs" transform="rotate(-90 146.20 362.00)" stroke="#231f20" stroke-width="0.22">Rh.R2A.4</text>
<text x="218.80" y="394.00" font-size="6.6">r<tspan font-size="4" dy="1.4">s</tspan><tspan dy="-1.4">= 0.767</tspan></text>
<text x="218.80" y="402.60" font-size="6.6">p= 0.0008</text>
<text x="270.60" y="297.10" font-size="12.3" font-weight="bold" fill="#000">C</text>
<text x="402.50" y="297.40" font-size="9.4" text-anchor="middle">alum/TLR7</text>
<text x="342.00" y="311.40" font-size="7.8" text-anchor="middle">Monocyte enriched module</text>
<text x="463.50" y="311.40" font-size="7.8" text-anchor="middle">Interferon M1.2 module</text>
<polygon points="309.30,349.40 318.00,355.50 326.20,362.00 335.00,368.50 343.10,372.00 356.00,373.80 367.70,373.80 367.70,405.50 362.00,402.50 356.00,398.50 350.00,394.00 343.10,391.00 326.20,388.60 309.30,387.50" fill="#c8c9cd" stroke="none"/>
<polyline points="309.30,349.40 318.00,355.50 326.20,362.00 335.00,368.50 343.10,372.00 356.00,373.80 367.70,373.80" fill="none" stroke="#636466" stroke-width="0.75"/>
<polyline points="309.30,387.50 326.20,388.60 343.10,391.00 350.00,394.00 356.00,398.50 362.00,402.50 367.70,405.50" fill="none" stroke="#636466" stroke-width="0.75"/>
<line x1="326.20" y1="320.20" x2="326.20" y2="406.50" stroke="#808285" stroke-width="0.8"/>
<line x1="309.30" y1="368.60" x2="367.70" y2="395.30" stroke="#231f20" stroke-width="0.9"/>
<circle cx="309.30" cy="355.90" r="1.75" fill="#2b4d7e"/>
<circle cx="323.10" cy="353.80" r="1.75" fill="#2b4d7e"/>
<circle cx="324.40" cy="368.60" r="1.75" fill="#2b4d7e"/>
<circle cx="334.80" cy="349.40" r="1.75" fill="#2b4d7e"/>
<circle cx="343.10" cy="336.90" r="1.75" fill="#2b4d7e"/>
<circle cx="343.10" cy="386.80" r="1.75" fill="#2b4d7e"/>
<rect x="340.85" y="379.25" width="3.50" height="3.50" fill="#b5123f"/>
<rect x="346.55" y="391.75" width="3.50" height="3.50" fill="#b5123f"/>
<rect x="350.45" y="390.95" width="3.50" height="3.50" fill="#b5123f"/>
<rect x="354.85" y="397.45" width="3.50" height="3.50" fill="#b5123f"/>
<rect x="362.05" y="395.45" width="3.50" height="3.50" fill="#b5123f"/>
<path d="M318.40,393.93L320.24,390.60L316.56,390.60Z" fill="#3b2d6e"/>
<path d="M322.30,391.32L324.14,388.00L320.46,388.00Z" fill="#3b2d6e"/>
<path d="M326.20,398.03L328.04,394.70L324.36,394.70Z" fill="#3b2d6e"/>
<path d="M331.40,393.32L333.24,390.00L329.56,390.00Z" fill="#3b2d6e"/>
<path d="M369.00,399.93L370.84,396.60L367.16,396.60Z" fill="#3b2d6e"/>
<path d="M325.00,391.43L326.84,388.10L323.16,388.10Z" fill="#3b2d6e"/>
<line x1="297.60" y1="318.20" x2="297.60" y2="407.10" stroke="#231f20" stroke-width="1.2"/>
<line x1="297.00" y1="406.50" x2="386.00" y2="406.50" stroke="#231f20" stroke-width="1.2"/>
<line x1="294.40" y1="320.80" x2="297.60" y2="320.80" stroke="#231f20" stroke-width="1.0"/>
<text x="289.20" y="324.10" font-size="7.5" text-anchor="end">5</text>
<line x1="294.40" y1="337.90" x2="297.60" y2="337.90" stroke="#231f20" stroke-width="1.0"/>
<text x="289.20" y="341.20" font-size="7.5" text-anchor="end">4</text>
<line x1="294.40" y1="355.10" x2="297.60" y2="355.10" stroke="#231f20" stroke-width="1.0"/>
<text x="289.20" y="358.40" font-size="7.5" text-anchor="end">3</text>
<line x1="294.40" y1="372.20" x2="297.60" y2="372.20" stroke="#231f20" stroke-width="1.0"/>
<text x="289.20" y="375.50" font-size="7.5" text-anchor="end">2</text>
<line x1="294.40" y1="389.40" x2="297.60" y2="389.40" stroke="#231f20" stroke-width="1.0"/>
<text x="289.20" y="392.70" font-size="7.5" text-anchor="end">1</text>
<line x1="294.40" y1="406.50" x2="297.60" y2="406.50" stroke="#231f20" stroke-width="1.0"/>
<text x="289.20" y="409.80" font-size="7.5" text-anchor="end">0</text>
<line x1="297.60" y1="406.50" x2="297.60" y2="409.50" stroke="#231f20" stroke-width="1.0"/>
<text x="297.60" y="419.20" font-size="7.3" text-anchor="middle">-1</text>
<line x1="326.20" y1="406.50" x2="326.20" y2="409.50" stroke="#231f20" stroke-width="1.0"/>
<text x="326.20" y="419.20" font-size="7.3" text-anchor="middle">0</text>
<line x1="354.80" y1="406.50" x2="354.80" y2="409.50" stroke="#231f20" stroke-width="1.0"/>
<text x="354.80" y="419.20" font-size="7.3" text-anchor="middle">1</text>
<line x1="383.30" y1="406.50" x2="383.30" y2="409.50" stroke="#231f20" stroke-width="1.0"/>
<text x="383.30" y="419.20" font-size="7.3" text-anchor="middle">2</text>
<text x="343.00" y="430.50" font-size="9.5" text-anchor="middle" textLength="48.00" lengthAdjust="spacingAndGlyphs" stroke="#231f20" stroke-width="0.22">Gene expression</text>
<text x="278.00" y="362.00" font-size="9.5" text-anchor="middle" textLength="56.60" lengthAdjust="spacingAndGlyphs" transform="rotate(-90 278.00 362.00)" stroke="#231f20" stroke-width="0.22">AgSpec. Indiv. G2B</text>
<text x="347.00" y="356.80" font-size="6.6">r<tspan font-size="4" dy="1.4">s</tspan><tspan dy="-1.4">= -0.537</tspan></text>
<text x="347.00" y="365.40" font-size="6.6">p= 0.0283</text>
<polygon points="422.60,387.00 430.00,380.50 439.50,372.00 448.00,362.50 458.00,352.00 469.00,336.50 479.50,321.20 481.10,336.50 470.00,350.50 458.00,365.80 448.00,377.00 439.50,387.30 430.00,397.00 422.60,405.80" fill="#c8c9cd" stroke="none"/>
<polyline points="422.60,387.00 430.00,380.50 439.50,372.00 448.00,362.50 458.00,352.00 469.00,336.50 479.50,321.20" fill="none" stroke="#636466" stroke-width="0.75"/>
<polyline points="422.60,405.80 430.00,397.00 439.50,387.30 448.00,377.00 458.00,365.80 470.00,350.50 481.10,336.50" fill="none" stroke="#636466" stroke-width="0.75"/>
<line x1="439.70" y1="320.20" x2="439.70" y2="406.50" stroke="#808285" stroke-width="0.8"/>
<line x1="422.60" y1="398.80" x2="481.10" y2="328.80" stroke="#231f20" stroke-width="0.9"/>
<circle cx="422.60" cy="384.20" r="1.75" fill="#2b4d7e"/>
<circle cx="431.20" cy="380.50" r="1.75" fill="#2b4d7e"/>
<rect x="439.85" y="378.75" width="3.50" height="3.50" fill="#b5123f"/>
<rect x="448.15" y="378.75" width="3.50" height="3.50" fill="#b5123f"/>
<rect x="435.75" y="379.25" width="3.50" height="3.50" fill="#b5123f"/>
<path d="M462.90,340.12L464.74,336.80L461.06,336.80Z" fill="#3b2d6e"/>
<path d="M474.60,337.53L476.44,334.20L472.76,334.20Z" fill="#3b2d6e"/>
<path d="M481.00,340.12L482.84,336.80L479.16,336.80Z" fill="#3b2d6e"/>
<path d="M469.40,357.03L471.24,353.70L467.56,353.70Z" fill="#3b2d6e"/>
<line x1="418.30" y1="318.20" x2="418.30" y2="407.10" stroke="#231f20" stroke-width="1.2"/>
<line x1="417.70" y1="406.50" x2="506.00" y2="406.50" stroke="#231f20" stroke-width="1.2"/>
<line x1="415.10" y1="320.80" x2="418.30" y2="320.80" stroke="#231f20" stroke-width="1.0"/>
<text x="410.90" y="324.10" font-size="7.5" text-anchor="end">5</text>
<line x1="415.10" y1="342.20" x2="418.30" y2="342.20" stroke="#231f20" stroke-width="1.0"/>
<text x="410.90" y="345.50" font-size="7.5" text-anchor="end">4</text>
<line x1="415.10" y1="363.60" x2="418.30" y2="363.60" stroke="#231f20" stroke-width="1.0"/>
<text x="410.90" y="366.90" font-size="7.5" text-anchor="end">3</text>
<line x1="415.10" y1="385.10" x2="418.30" y2="385.10" stroke="#231f20" stroke-width="1.0"/>
<text x="410.90" y="388.40" font-size="7.5" text-anchor="end">2</text>
<line x1="415.10" y1="406.50" x2="418.30" y2="406.50" stroke="#231f20" stroke-width="1.0"/>
<text x="410.90" y="409.80" font-size="7.5" text-anchor="end">1</text>
<line x1="418.30" y1="406.50" x2="418.30" y2="409.50" stroke="#231f20" stroke-width="1.0"/>
<text x="418.30" y="419.20" font-size="7.3" text-anchor="middle">-2</text>
<line x1="439.70" y1="406.50" x2="439.70" y2="409.50" stroke="#231f20" stroke-width="1.0"/>
<text x="439.70" y="419.20" font-size="7.3" text-anchor="middle">0</text>
<line x1="461.10" y1="406.50" x2="461.10" y2="409.50" stroke="#231f20" stroke-width="1.0"/>
<text x="461.10" y="419.20" font-size="7.3" text-anchor="middle">2</text>
<line x1="482.50" y1="406.50" x2="482.50" y2="409.50" stroke="#231f20" stroke-width="1.0"/>
<text x="482.50" y="419.20" font-size="7.3" text-anchor="middle">4</text>
<line x1="503.90" y1="406.50" x2="503.90" y2="409.50" stroke="#231f20" stroke-width="1.0"/>
<text x="503.90" y="419.20" font-size="7.3" text-anchor="middle">6</text>
<text x="464.00" y="430.50" font-size="9.5" text-anchor="middle" textLength="48.00" lengthAdjust="spacingAndGlyphs" stroke="#231f20" stroke-width="0.22">Gene expression</text>
<text x="401.10" y="362.00" font-size="9.5" text-anchor="middle" textLength="25.80" lengthAdjust="spacingAndGlyphs" transform="rotate(-90 401.10 362.00)" stroke="#231f20" stroke-width="0.22">Rh.R2A.4</text>
<text x="470.70" y="387.80" font-size="6.6">r<tspan font-size="4" dy="1.4">s</tspan><tspan dy="-1.4">= 0.808</tspan></text>
<text x="470.70" y="396.40" font-size="6.6">p= 0.0002</text>
<circle cx="439.6" cy="382.4" r="3.0" fill="#b5123f"/>
<path d="M470.7,325.3L474.4,319.6L467.0,319.6Z" fill="#3b2d6e"/>
<text x="8.20" y="468.00" font-size="12.3" font-weight="bold" fill="#000">D</text>
<text x="84.00" y="468.80" font-size="9.4" text-anchor="middle">ANE/TLR4</text>
<text x="206.50" y="468.80" font-size="9.4" text-anchor="middle">ANE/TLR7</text>
<text x="139.50" y="483.00" font-size="7.8" text-anchor="middle">Apoptosis module</text>
<polygon points="53.10,523.50 67.70,521.20 74.00,519.50 80.00,515.80 85.00,510.50 90.80,503.50 96.00,497.50 102.30,491.30 112.60,491.30 112.60,521.20 103.00,522.80 93.80,525.00 87.00,527.50 80.00,531.20 74.00,536.50 67.70,543.50 60.00,551.50 53.10,561.90" fill="#c8c9cd" stroke="none"/>
<polyline points="53.10,523.50 67.70,521.20 74.00,519.50 80.00,515.80 85.00,510.50 90.80,503.50 96.00,497.50 102.30,491.30 112.60,491.30" fill="none" stroke="#636466" stroke-width="0.75"/>
<polyline points="53.10,561.90 60.00,551.50 67.70,543.50 74.00,536.50 80.00,531.20 87.00,527.50 93.80,525.00 103.00,522.80 112.60,521.20" fill="none" stroke="#636466" stroke-width="0.75"/>
<line x1="67.80" y1="491.00" x2="67.80" y2="577.70" stroke="#808285" stroke-width="0.8"/>
<line x1="53.20" y1="543.50" x2="112.90" y2="499.30" stroke="#231f20" stroke-width="0.9"/>
<circle cx="62.80" cy="525.30" r="1.75" fill="#2b4d7e"/>
<circle cx="64.40" cy="528.40" r="1.75" fill="#2b4d7e"/>
<circle cx="53.20" cy="555.10" r="1.75" fill="#2b4d7e"/>
<circle cx="72.70" cy="562.10" r="1.75" fill="#2b4d7e"/>
<circle cx="77.90" cy="553.80" r="1.75" fill="#2b4d7e"/>
<circle cx="80.50" cy="562.10" r="1.75" fill="#2b4d7e"/>
<path d="M68.00,514.90L70.10,517.00L68.00,519.10L65.90,517.00Z" fill="#d8923a"/>
<path d="M70.10,510.20L72.20,512.30L70.10,514.40L68.00,512.30Z" fill="#d8923a"/>
<path d="M80.00,512.30L82.10,514.40L80.00,516.50L77.90,514.40Z" fill="#d8923a"/>
<path d="M81.80,510.20L83.90,512.30L81.80,514.40L79.70,512.30Z" fill="#d8923a"/>
<circle cx="82.60" cy="508.40" r="1.75" fill="#5e1033" stroke="#5e3478" stroke-width="0.6"/>
<circle cx="86.20" cy="507.60" r="1.75" fill="#5e1033" stroke="#5e3478" stroke-width="0.6"/>
<circle cx="90.90" cy="511.00" r="1.75" fill="#5e1033" stroke="#5e3478" stroke-width="0.6"/>
<circle cx="96.00" cy="507.60" r="1.75" fill="#5e1033" stroke="#5e3478" stroke-width="0.6"/>
<circle cx="97.40" cy="507.10" r="1.75" fill="#5e1033" stroke="#5e3478" stroke-width="0.6"/>
<circle cx="112.90" cy="510.20" r="1.75" fill="#5e1033" stroke="#5e3478" stroke-width="0.6"/>
<line x1="38.90" y1="489.00" x2="38.90" y2="578.30" stroke="#231f20" stroke-width="1.2"/>
<line x1="38.30" y1="577.70" x2="126.60" y2="577.70" stroke="#231f20" stroke-width="1.2"/>
<line x1="35.70" y1="491.00" x2="38.90" y2="491.00" stroke="#231f20" stroke-width="1.0"/>
<text x="32.30" y="494.30" font-size="7.5" text-anchor="end">6</text>
<line x1="35.70" y1="508.30" x2="38.90" y2="508.30" stroke="#231f20" stroke-width="1.0"/>
<text x="32.30" y="511.60" font-size="7.5" text-anchor="end">5</text>
<line x1="35.70" y1="525.70" x2="38.90" y2="525.70" stroke="#231f20" stroke-width="1.0"/>
<text x="32.30" y="529.00" font-size="7.5" text-anchor="end">4</text>
<line x1="35.70" y1="543.00" x2="38.90" y2="543.00" stroke="#231f20" stroke-width="1.0"/>
<text x="32.30" y="546.30" font-size="7.5" text-anchor="end">3</text>
<line x1="35.70" y1="560.40" x2="38.90" y2="560.40" stroke="#231f20" stroke-width="1.0"/>
<text x="32.30" y="563.70" font-size="7.5" text-anchor="end">2</text>
<line x1="35.70" y1="577.70" x2="38.90" y2="577.70" stroke="#231f20" stroke-width="1.0"/>
<text x="32.30" y="581.00" font-size="7.5" text-anchor="end">1</text>
<line x1="38.90" y1="577.70" x2="38.90" y2="580.70" stroke="#231f20" stroke-width="1.0"/>
<text x="38.90" y="590.40" font-size="7.3" text-anchor="middle">-1</text>
<line x1="67.80" y1="577.70" x2="67.80" y2="580.70" stroke="#231f20" stroke-width="1.0"/>
<text x="67.80" y="590.40" font-size="7.3" text-anchor="middle">0</text>
<line x1="96.80" y1="577.70" x2="96.80" y2="580.70" stroke="#231f20" stroke-width="1.0"/>
<text x="96.80" y="590.40" font-size="7.3" text-anchor="middle">1</text>
<line x1="125.70" y1="577.70" x2="125.70" y2="580.70" stroke="#231f20" stroke-width="1.0"/>
<text x="125.70" y="590.40" font-size="7.3" text-anchor="middle">2</text>
<text x="83.80" y="601.70" font-size="9.5" text-anchor="middle" textLength="48.00" lengthAdjust="spacingAndGlyphs" stroke="#231f20" stroke-width="0.22">Gene expression</text>
<text x="20.40" y="532.80" font-size="9.5" text-anchor="middle" textLength="26.50" lengthAdjust="spacingAndGlyphs" transform="rotate(-90 20.40 532.80)" stroke="#231f20" stroke-width="0.22">Rh.R2A.3</text>
<text x="91.40" y="561.20" font-size="6.6">r<tspan font-size="4" dy="1.4">s</tspan><tspan dy="-1.4">= 0.798</tspan></text>
<text x="91.40" y="569.80" font-size="6.6">p&lt; 0.0001</text>
<polygon points="184.00,515.30 194.00,516.50 204.80,517.00 211.00,516.00 216.90,513.60 223.00,509.50 229.00,504.00 234.00,499.00 239.40,494.50 244.00,492.50 249.00,491.90 249.00,530.90 234.20,530.40 225.00,531.40 216.90,533.50 210.00,536.20 204.80,539.50 194.40,547.30 189.00,554.00 184.00,561.20" fill="#c8c9cd" stroke="none"/>
<polyline points="184.00,515.30 194.00,516.50 204.80,517.00 211.00,516.00 216.90,513.60 223.00,509.50 229.00,504.00 234.00,499.00 239.40,494.50 244.00,492.50 249.00,491.90" fill="none" stroke="#636466" stroke-width="0.75"/>
<polyline points="184.00,561.20 189.00,554.00 194.40,547.30 204.80,539.50 210.00,536.20 216.90,533.50 225.00,531.40 234.20,530.40 249.00,530.90" fill="none" stroke="#636466" stroke-width="0.75"/>
<line x1="205.30" y1="491.00" x2="205.30" y2="577.70" stroke="#808285" stroke-width="0.8"/>
<line x1="184.20" y1="539.60" x2="249.60" y2="507.60" stroke="#231f20" stroke-width="0.9"/>
<circle cx="199.00" cy="525.30" r="1.75" fill="#2b4d7e"/>
<circle cx="200.80" cy="528.40" r="1.75" fill="#2b4d7e"/>
<circle cx="184.20" cy="555.10" r="1.75" fill="#2b4d7e"/>
<circle cx="212.70" cy="562.10" r="1.75" fill="#2b4d7e"/>
<circle cx="221.60" cy="553.80" r="1.75" fill="#2b4d7e"/>
<circle cx="223.60" cy="561.60" r="1.75" fill="#2b4d7e"/>
<path d="M208.60,510.20L210.70,512.30L208.60,514.40L206.50,512.30Z" fill="#d8923a"/>
<path d="M223.60,511.50L225.70,513.60L223.60,515.70L221.50,513.60Z" fill="#d8923a"/>
<path d="M248.30,505.00L250.40,507.10L248.30,509.20L246.20,507.10Z" fill="#d8923a"/>
<rect x="199.05" y="513.15" width="3.50" height="3.50" fill="#e0a24e" stroke="#3a2a1a" stroke-width="0.7"/>
<rect x="214.15" y="511.85" width="3.50" height="3.50" fill="#e0a24e" stroke="#3a2a1a" stroke-width="0.7"/>
<rect x="216.75" y="507.45" width="3.50" height="3.50" fill="#e0a24e" stroke="#3a2a1a" stroke-width="0.7"/>
<rect x="218.05" y="510.05" width="3.50" height="3.50" fill="#e0a24e" stroke="#3a2a1a" stroke-width="0.7"/>
<rect x="227.05" y="507.45" width="3.50" height="3.50" fill="#e0a24e" stroke="#3a2a1a" stroke-width="0.7"/>
<line x1="163.00" y1="489.00" x2="163.00" y2="578.30" stroke="#231f20" stroke-width="1.2"/>
<line x1="162.40" y1="577.70" x2="251.00" y2="577.70" stroke="#231f20" stroke-width="1.2"/>
<line x1="159.80" y1="491.00" x2="163.00" y2="491.00" stroke="#231f20" stroke-width="1.0"/>
<text x="156.40" y="494.30" font-size="7.5" text-anchor="end">6</text>
<line x1="159.80" y1="508.30" x2="163.00" y2="508.30" stroke="#231f20" stroke-width="1.0"/>
<text x="156.40" y="511.60" font-size="7.5" text-anchor="end">5</text>
<line x1="159.80" y1="525.70" x2="163.00" y2="525.70" stroke="#231f20" stroke-width="1.0"/>
<text x="156.40" y="529.00" font-size="7.5" text-anchor="end">4</text>
<line x1="159.80" y1="543.00" x2="163.00" y2="543.00" stroke="#231f20" stroke-width="1.0"/>
<text x="156.40" y="546.30" font-size="7.5" text-anchor="end">3</text>
<line x1="159.80" y1="560.40" x2="163.00" y2="560.40" stroke="#231f20" stroke-width="1.0"/>
<text x="156.40" y="563.70" font-size="7.5" text-anchor="end">2</text>
<line x1="159.80" y1="577.70" x2="163.00" y2="577.70" stroke="#231f20" stroke-width="1.0"/>
<text x="156.40" y="581.00" font-size="7.5" text-anchor="end">1</text>
<line x1="163.00" y1="577.70" x2="163.00" y2="580.70" stroke="#231f20" stroke-width="1.0"/>
<text x="163.00" y="590.40" font-size="7.3" text-anchor="middle">-1</text>
<line x1="205.30" y1="577.70" x2="205.30" y2="580.70" stroke="#231f20" stroke-width="1.0"/>
<text x="205.30" y="590.40" font-size="7.3" text-anchor="middle">0</text>
<line x1="247.30" y1="577.70" x2="247.30" y2="580.70" stroke="#231f20" stroke-width="1.0"/>
<text x="247.30" y="590.40" font-size="7.3" text-anchor="middle">1</text>
<text x="207.00" y="601.70" font-size="9.5" text-anchor="middle" textLength="48.00" lengthAdjust="spacingAndGlyphs" stroke="#231f20" stroke-width="0.22">Gene expression</text>
<text x="146.00" y="532.70" font-size="9.5" text-anchor="middle" textLength="26.30" lengthAdjust="spacingAndGlyphs" transform="rotate(-90 146.00 532.70)" stroke="#231f20" stroke-width="0.22">Rh.R2A.3</text>
<text x="169.70" y="496.30" font-size="6.6">r<tspan font-size="4" dy="1.4">s</tspan><tspan dy="-1.4">= 0.562</tspan></text>
<text x="169.70" y="504.90" font-size="6.6">p= 0.0151</text>
<text x="270.80" y="468.00" font-size="12.3" font-weight="bold" fill="#000">E</text>
<text x="392.00" y="468.80" font-size="9.4" text-anchor="middle">All adjuvants</text>
<text x="391.50" y="483.00" font-size="7.8" text-anchor="middle">Antiviral module</text>
<polygon points="303.50,544.60 318.10,539.70 333.50,531.50 348.80,523.10 359.60,515.40 370.40,506.20 370.40,530.00 359.60,533.10 348.80,540.00 333.50,550.00 318.10,559.20 303.50,566.20" fill="#c8c9cd" stroke="none"/>
<polyline points="303.50,544.60 318.10,539.70 333.50,531.50 348.80,523.10 359.60,515.40 370.40,506.20" fill="none" stroke="#636466" stroke-width="0.75"/>
<polyline points="303.50,566.20 318.10,559.20 333.50,550.00 348.80,540.00 359.60,533.10 370.40,530.00" fill="none" stroke="#636466" stroke-width="0.75"/>
<line x1="319.20" y1="491.00" x2="319.20" y2="577.70" stroke="#808285" stroke-width="0.8"/>
<line x1="303.50" y1="556.20" x2="370.40" y2="515.40" stroke="#231f20" stroke-width="0.9"/>
<circle cx="303.60" cy="526.60" r="1.75" fill="#2b4d7e"/>
<circle cx="311.90" cy="543.00" r="1.75" fill="#2b4d7e"/>
<circle cx="315.80" cy="548.60" r="1.75" fill="#2b4d7e"/>
<circle cx="321.00" cy="560.30" r="1.75" fill="#2b4d7e"/>
<circle cx="317.10" cy="577.20" r="1.75" fill="#2b4d7e"/>
<path d="M316.60,514.90L318.70,517.00L316.60,519.10L314.50,517.00Z" fill="#d8923a"/>
<path d="M317.60,561.60L319.70,563.70L317.60,565.80L315.50,563.70Z" fill="#d8923a"/>
<path d="M322.30,575.30L324.40,577.40L322.30,579.50L320.20,577.40Z" fill="#d8923a"/>
<path d="M340.50,522.70L342.60,524.80L340.50,526.90L338.40,524.80Z" fill="#d8923a"/>
<rect x="336.15" y="511.85" width="3.50" height="3.50" fill="#e0a24e" stroke="#3a2a1a" stroke-width="0.7"/>
<rect x="336.15" y="527.45" width="3.50" height="3.50" fill="#e0a24e" stroke="#3a2a1a" stroke-width="0.7"/>
<rect x="327.85" y="535.25" width="3.50" height="3.50" fill="#e0a24e" stroke="#3a2a1a" stroke-width="0.7"/>
<rect x="347.85" y="523.55" width="3.50" height="3.50" fill="#e0a24e" stroke="#3a2a1a" stroke-width="0.7"/>
<rect x="359.45" y="530.85" width="3.50" height="3.50" fill="#e0a24e" stroke="#3a2a1a" stroke-width="0.7"/>
<circle cx="320.20" cy="529.20" r="1.75" fill="#5e1033" stroke="#5e3478" stroke-width="0.6"/>
<circle cx="323.60" cy="532.60" r="1.75" fill="#5e1033" stroke="#5e3478" stroke-width="0.6"/>
<circle cx="328.80" cy="522.70" r="1.75" fill="#5e1033" stroke="#5e3478" stroke-width="0.6"/>
<circle cx="335.30" cy="528.00" r="1.75" fill="#5e1033" stroke="#5e3478" stroke-width="0.6"/>
<circle cx="336.60" cy="539.60" r="1.75" fill="#5e1033" stroke="#5e3478" stroke-width="0.6"/>
<circle cx="341.80" cy="535.70" r="1.75" fill="#5e1033" stroke="#5e3478" stroke-width="0.6"/>
<rect x="319.25" y="549.45" width="3.50" height="3.50" fill="#b5123f"/>
<rect x="321.85" y="561.95" width="3.50" height="3.50" fill="#b5123f"/>
<rect x="328.85" y="539.15" width="3.50" height="3.50" fill="#b5123f"/>
<path d="M314.00,533.78L315.84,537.10L312.16,537.10Z" fill="#7fbf5e"/>
<path d="M334.00,545.38L335.84,548.70L332.16,548.70Z" fill="#7fbf5e"/>
<path d="M328.00,575.08L329.84,578.40L326.16,578.40Z" fill="#7fbf5e"/>
<path d="M326.00,575.08L327.84,578.40L324.16,578.40Z" fill="#7fbf5e"/>
<path d="M314.50,536.32L316.34,533.00L312.66,533.00Z" fill="#1d1d24"/>
<path d="M326.20,528.52L328.04,525.20L324.36,525.20Z" fill="#1d1d24"/>
<path d="M352.20,512.12L354.04,508.80L350.36,508.80Z" fill="#1d1d24"/>
<path d="M356.60,512.12L358.44,508.80L354.76,508.80Z" fill="#1d1d24"/>
<path d="M342.60,542.22L344.44,538.90L340.76,538.90Z" fill="#3b2d6e"/>
<path d="M346.00,533.92L347.84,530.60L344.16,530.60Z" fill="#3b2d6e"/>
<path d="M352.20,517.68L354.04,521.00L350.36,521.00Z" fill="#7a7c88" stroke="#2a2a33" stroke-width="0.6"/>
<path d="M359.20,517.68L361.04,521.00L357.36,521.00Z" fill="#7a7c88" stroke="#2a2a33" stroke-width="0.6"/>
<path d="M369.00,514.28L370.84,517.60L367.16,517.60Z" fill="#7a7c88" stroke="#2a2a33" stroke-width="0.6"/>
<path d="M356.00,531.68L357.84,535.00L354.16,535.00Z" fill="#7a7c88" stroke="#2a2a33" stroke-width="0.6"/>
<path d="M370.30,527.28L372.14,530.60L368.46,530.60Z" fill="#7a7c88" stroke="#2a2a33" stroke-width="0.6"/>
<line x1="297.60" y1="489.00" x2="297.60" y2="578.30" stroke="#231f20" stroke-width="1.2"/>
<line x1="297.00" y1="577.70" x2="386.00" y2="577.70" stroke="#231f20" stroke-width="1.2"/>
<line x1="294.40" y1="491.00" x2="297.60" y2="491.00" stroke="#231f20" stroke-width="1.0"/>
<text x="289.80" y="494.30" font-size="7.5" text-anchor="end">4</text>
<line x1="294.40" y1="512.70" x2="297.60" y2="512.70" stroke="#231f20" stroke-width="1.0"/>
<text x="289.80" y="516.00" font-size="7.5" text-anchor="end">3</text>
<line x1="294.40" y1="534.40" x2="297.60" y2="534.40" stroke="#231f20" stroke-width="1.0"/>
<text x="289.80" y="537.70" font-size="7.5" text-anchor="end">2</text>
<line x1="294.40" y1="556.00" x2="297.60" y2="556.00" stroke="#231f20" stroke-width="1.0"/>
<text x="289.80" y="559.30" font-size="7.5" text-anchor="end">1</text>
<line x1="294.40" y1="577.70" x2="297.60" y2="577.70" stroke="#231f20" stroke-width="1.0"/>
<text x="289.80" y="581.00" font-size="7.5" text-anchor="end">0</text>
<line x1="297.60" y1="577.70" x2="297.60" y2="580.70" stroke="#231f20" stroke-width="1.0"/>
<text x="297.60" y="590.40" font-size="7.3" text-anchor="middle">-2</text>
<line x1="319.20" y1="577.70" x2="319.20" y2="580.70" stroke="#231f20" stroke-width="1.0"/>
<text x="319.20" y="590.40" font-size="7.3" text-anchor="middle">0</text>
<line x1="340.90" y1="577.70" x2="340.90" y2="580.70" stroke="#231f20" stroke-width="1.0"/>
<text x="340.90" y="590.40" font-size="7.3" text-anchor="middle">2</text>
<line x1="362.50" y1="577.70" x2="362.50" y2="580.70" stroke="#231f20" stroke-width="1.0"/>
<text x="362.50" y="590.40" font-size="7.3" text-anchor="middle">4</text>
<line x1="384.10" y1="577.70" x2="384.10" y2="580.70" stroke="#231f20" stroke-width="1.0"/>
<text x="384.10" y="590.40" font-size="7.3" text-anchor="middle">6</text>
<text x="343.00" y="601.70" font-size="9.5" text-anchor="middle" textLength="48.00" lengthAdjust="spacingAndGlyphs" stroke="#231f20" stroke-width="0.22">Gene expression</text>
<text x="277.30" y="533.00" font-size="9.5" text-anchor="middle" textLength="41.50" lengthAdjust="spacingAndGlyphs" transform="rotate(-90 277.30 533.00)" stroke="#231f20" stroke-width="0.22">ELISpot_IFNg</text>
<text x="350.80" y="563.60" font-size="6.6">r<tspan font-size="4" dy="1.4">s</tspan><tspan dy="-1.4">= 0.516</tspan></text>
<text x="350.80" y="572.20" font-size="6.6">p= 0.0001</text>
<polygon points="424.20,554.60 439.50,549.20 461.10,540.00 476.50,530.80 490.30,523.10 490.30,536.90 476.50,539.20 461.10,546.90 439.50,559.20 424.20,568.50" fill="#c8c9cd" stroke="none"/>
<polyline points="424.20,554.60 439.50,549.20 461.10,540.00 476.50,530.80 490.30,523.10" fill="none" stroke="#636466" stroke-width="0.75"/>
<polyline points="424.20,568.50 439.50,559.20 461.10,546.90 476.50,539.20 490.30,536.90" fill="none" stroke="#636466" stroke-width="0.75"/>
<line x1="439.60" y1="491.00" x2="439.60" y2="577.70" stroke="#808285" stroke-width="0.8"/>
<line x1="424.20" y1="562.30" x2="490.30" y2="530.00" stroke="#231f20" stroke-width="0.9"/>
<circle cx="424.00" cy="561.60" r="1.75" fill="#2b4d7e"/>
<circle cx="431.70" cy="559.60" r="1.75" fill="#2b4d7e"/>
<circle cx="436.90" cy="562.10" r="1.75" fill="#2b4d7e"/>
<rect x="439.85" y="559.35" width="3.50" height="3.50" fill="#b5123f"/>
<rect x="442.45" y="559.35" width="3.50" height="3.50" fill="#b5123f"/>
<path d="M439.50,545.20L441.60,547.30L439.50,549.40L437.40,547.30Z" fill="#d8923a"/>
<path d="M441.80,546.00L443.90,548.10L441.80,550.20L439.70,548.10Z" fill="#d8923a"/>
<path d="M455.10,538.80L457.20,540.90L455.10,543.00L453.00,540.90Z" fill="#d8923a"/>
<rect x="448.15" y="559.85" width="3.50" height="3.50" fill="#e0a24e" stroke="#3a2a1a" stroke-width="0.7"/>
<rect x="457.25" y="537.85" width="3.50" height="3.50" fill="#e0a24e" stroke="#3a2a1a" stroke-width="0.7"/>
<rect x="457.25" y="541.25" width="3.50" height="3.50" fill="#e0a24e" stroke="#3a2a1a" stroke-width="0.7"/>
<rect x="467.65" y="546.85" width="3.50" height="3.50" fill="#e0a24e" stroke="#3a2a1a" stroke-width="0.7"/>
<rect x="467.65" y="555.25" width="3.50" height="3.50" fill="#e0a24e" stroke="#3a2a1a" stroke-width="0.7"/>
<rect x="480.65" y="548.25" width="3.50" height="3.50" fill="#e0a24e" stroke="#3a2a1a" stroke-width="0.7"/>
<circle cx="451.20" cy="522.70" r="1.75" fill="#5e1033" stroke="#5e3478" stroke-width="0.6"/>
<circle cx="443.40" cy="540.30" r="1.75" fill="#5e1033" stroke="#5e3478" stroke-width="0.6"/>
<circle cx="452.00" cy="549.20" r="1.75" fill="#5e1033" stroke="#5e3478" stroke-width="0.6"/>
<circle cx="460.30" cy="532.60" r="1.75" fill="#5e1033" stroke="#5e3478" stroke-width="0.6"/>
<circle cx="459.00" cy="555.90" r="1.75" fill="#5e1033" stroke="#5e3478" stroke-width="0.6"/>
<circle cx="455.60" cy="542.20" r="1.75" fill="#5e1033" stroke="#5e3478" stroke-width="0.6"/>
<path d="M435.60,542.22L437.44,538.90L433.76,538.90Z" fill="#1d1d24"/>
<path d="M468.10,520.72L469.94,517.40L466.26,517.40Z" fill="#1d1d24"/>
<path d="M469.40,525.92L471.24,522.60L467.56,522.60Z" fill="#1d1d24"/>
<path d="M462.90,529.82L464.74,526.50L461.06,526.50Z" fill="#3b2d6e"/>
<path d="M481.00,549.22L482.84,545.90L479.16,545.90Z" fill="#1d1d24"/>
<path d="M447.30,558.32L449.14,555.00L445.46,555.00Z" fill="#3b2d6e"/>
<path d="M474.00,538.92L475.84,535.60L472.16,535.60Z" fill="#3b2d6e"/>
<path d="M475.90,509.88L477.74,513.20L474.06,513.20Z" fill="#7a7c88" stroke="#2a2a33" stroke-width="0.6"/>
<path d="M490.10,517.68L491.94,521.00L488.26,521.00Z" fill="#7a7c88" stroke="#2a2a33" stroke-width="0.6"/>
<path d="M489.60,531.18L491.44,534.50L487.76,534.50Z" fill="#7a7c88" stroke="#2a2a33" stroke-width="0.6"/>
<path d="M478.50,532.48L480.34,535.80L476.66,535.80Z" fill="#7a7c88" stroke="#2a2a33" stroke-width="0.6"/>
<path d="M473.80,542.88L475.64,546.20L471.96,546.20Z" fill="#7a7c88" stroke="#2a2a33" stroke-width="0.6"/>
<path d="M448.60,541.58L450.44,544.90L446.76,544.90Z" fill="#7fbf5e"/>
<path d="M437.00,546.08L438.84,549.40L435.16,549.40Z" fill="#7fbf5e"/>
<line x1="418.30" y1="489.00" x2="418.30" y2="578.30" stroke="#231f20" stroke-width="1.2"/>
<line x1="417.70" y1="577.70" x2="506.00" y2="577.70" stroke="#231f20" stroke-width="1.2"/>
<line x1="415.10" y1="491.00" x2="418.30" y2="491.00" stroke="#231f20" stroke-width="1.0"/>
<text x="410.40" y="494.30" font-size="7.5" text-anchor="end">5</text>
<line x1="415.10" y1="512.70" x2="418.30" y2="512.70" stroke="#231f20" stroke-width="1.0"/>
<text x="410.40" y="516.00" font-size="7.5" text-anchor="end">4</text>
<line x1="415.10" y1="534.40" x2="418.30" y2="534.40" stroke="#231f20" stroke-width="1.0"/>
<text x="410.40" y="537.70" font-size="7.5" text-anchor="end">3</text>
<line x1="415.10" y1="556.00" x2="418.30" y2="556.00" stroke="#231f20" stroke-width="1.0"/>
<text x="410.40" y="559.30" font-size="7.5" text-anchor="end">2</text>
<line x1="415.10" y1="577.70" x2="418.30" y2="577.70" stroke="#231f20" stroke-width="1.0"/>
<text x="410.40" y="581.00" font-size="7.5" text-anchor="end">1</text>
<line x1="418.30" y1="577.70" x2="418.30" y2="580.70" stroke="#231f20" stroke-width="1.0"/>
<text x="418.30" y="590.40" font-size="7.3" text-anchor="middle">-2</text>
<line x1="439.60" y1="577.70" x2="439.60" y2="580.70" stroke="#231f20" stroke-width="1.0"/>
<text x="439.60" y="590.40" font-size="7.3" text-anchor="middle">0</text>
<line x1="461.00" y1="577.70" x2="461.00" y2="580.70" stroke="#231f20" stroke-width="1.0"/>
<text x="461.00" y="590.40" font-size="7.3" text-anchor="middle">2</text>
<line x1="482.40" y1="577.70" x2="482.40" y2="580.70" stroke="#231f20" stroke-width="1.0"/>
<text x="482.40" y="590.40" font-size="7.3" text-anchor="middle">4</text>
<line x1="503.80" y1="577.70" x2="503.80" y2="580.70" stroke="#231f20" stroke-width="1.0"/>
<text x="503.80" y="590.40" font-size="7.3" text-anchor="middle">6</text>
<text x="464.00" y="601.70" font-size="9.5" text-anchor="middle" textLength="48.00" lengthAdjust="spacingAndGlyphs" stroke="#231f20" stroke-width="0.22">Gene expression</text>
<text x="399.20" y="532.70" font-size="9.5" text-anchor="middle" textLength="32.50" lengthAdjust="spacingAndGlyphs" transform="rotate(-90 399.20 532.70)" stroke="#231f20" stroke-width="0.22">huFcgRIIIa</text>
<text x="473.30" y="565.20" font-size="6.6">r<tspan font-size="4" dy="1.4">s</tspan><tspan dy="-1.4">= 0.581</tspan></text>
<text x="473.30" y="573.80" font-size="6.6">p&lt; 0.0001</text>
<circle cx="120.10" cy="613.80" r="1.75" fill="#2b4d7e"/>
<text x="126.20" y="616.20" font-size="7.3">Env</text>
<rect x="147.85" y="612.05" width="3.50" height="3.50" fill="#b5123f"/>
<text x="155.60" y="616.20" font-size="7.3">Env + alum</text>
<path d="M203.70,611.88L205.54,615.20L201.86,615.20Z" fill="#7fbf5e"/>
<text x="209.40" y="616.20" font-size="7.3">Env + alum / TLR4</text>
<path d="M282.20,615.73L284.04,612.40L280.36,612.40Z" fill="#3b2d6e"/>
<text x="287.40" y="616.20" font-size="7.3">Env + alum / TLR7</text>
<path d="M360.90,611.70L363.00,613.80L360.90,615.90L358.80,613.80Z" fill="#d8923a"/>
<text x="366.90" y="616.20" font-size="7.3">Env + MF59</text>
<circle cx="128.20" cy="627.00" r="1.75" fill="#5e1033" stroke="#5e3478" stroke-width="0.6"/>
<text x="134.20" y="629.40" font-size="7.3">Env + ANE / TLR4</text>
<rect x="205.25" y="625.25" width="3.50" height="3.50" fill="#e0a24e" stroke="#3a2a1a" stroke-width="0.7"/>
<text x="213.00" y="629.40" font-size="7.3">Env + ANE / TLR7</text>
<path d="M282.4,628.6L284.3,625.0L286.2,628.6Z" fill="#231f20"/>
<text x="290.30" y="629.40" font-size="7.3">Env + pIC:LC</text>
<path d="M346.70,628.92L348.54,625.60L344.86,625.60Z" fill="#1d1d24"/>
<text x="352.00" y="629.40" font-size="7.3">Env + ISCOM</text>
<rect x="0" y="0" width="520" height="1.4" fill="#000"/><rect x="0" y="0" width="1.5" height="637" fill="#000"/><rect x="518.3" y="0" width="1.7" height="637" fill="#000"/><rect x="0" y="635.3" width="520" height="1.7" fill="#000"/>
</svg></body></html>
